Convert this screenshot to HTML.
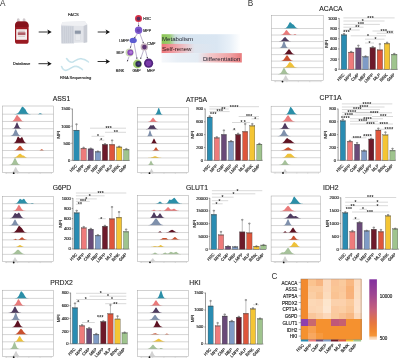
<!DOCTYPE html>
<html><head><meta charset="utf-8"><style>html,body{margin:0;padding:0;background:#fff;width:400px;height:359px;overflow:hidden}svg text{font-family:"Liberation Sans",sans-serif}</style></head><body>
<svg width="400" height="359" viewBox="0 0 400 359" style="display:block;filter:blur(0.3px)">
<rect width="400" height="359" fill="#fff"/>
<text x="0.1" y="6.1" font-size="8.2" fill="#333">A</text>
<text x="247.7" y="6.2" font-size="8.2" fill="#333">B</text>
<text x="271.6" y="278.5" font-size="8.2" fill="#333">C</text>
<text x="330.9" y="11.2" font-size="6.8" text-anchor="middle" fill="#1e1e1e" stroke="#1e1e1e" stroke-width="0.12">ACACA</text>
<text x="61.5" y="101.4" font-size="6.8" text-anchor="middle" fill="#1e1e1e" stroke="#1e1e1e" stroke-width="0.12">ASS1</text>
<text x="196.6" y="102.4" font-size="6.8" text-anchor="middle" fill="#1e1e1e" stroke="#1e1e1e" stroke-width="0.12">ATP5A</text>
<text x="330.5" y="99.9" font-size="6.8" text-anchor="middle" fill="#1e1e1e" stroke="#1e1e1e" stroke-width="0.12">CPT1A</text>
<text x="62" y="189.6" font-size="6.8" text-anchor="middle" fill="#1e1e1e" stroke="#1e1e1e" stroke-width="0.12">G6PD</text>
<text x="197" y="189.7" font-size="6.8" text-anchor="middle" fill="#1e1e1e" stroke="#1e1e1e" stroke-width="0.12">GLUT1</text>
<text x="330.8" y="189.7" font-size="6.8" text-anchor="middle" fill="#1e1e1e" stroke="#1e1e1e" stroke-width="0.12">IDH2</text>
<text x="61.5" y="285" font-size="6.8" text-anchor="middle" fill="#1e1e1e" stroke="#1e1e1e" stroke-width="0.12">PRDX2</text>
<text x="195" y="285" font-size="6.8" text-anchor="middle" fill="#1e1e1e" stroke="#1e1e1e" stroke-width="0.12">HKI</text>
<line x1="339.2" y1="18.1" x2="339.2" y2="69.3" stroke="#333" stroke-width="0.5"/>
<line x1="339.2" y1="69.3" x2="397.81" y2="69.3" stroke="#333" stroke-width="0.5"/>
<line x1="338" y1="69.3" x2="339.2" y2="69.3" stroke="#333" stroke-width="0.45"/>
<text x="337.1" y="70.75" font-size="4.1" text-anchor="end" fill="#1e1e1e" stroke="#2a2a2a" stroke-width="0.16">0</text>
<line x1="338" y1="59.12" x2="339.2" y2="59.12" stroke="#333" stroke-width="0.45"/>
<text x="337.1" y="60.57" font-size="4.1" text-anchor="end" fill="#1e1e1e" stroke="#2a2a2a" stroke-width="0.16">200</text>
<line x1="338" y1="48.94" x2="339.2" y2="48.94" stroke="#333" stroke-width="0.45"/>
<text x="337.1" y="50.39" font-size="4.1" text-anchor="end" fill="#1e1e1e" stroke="#2a2a2a" stroke-width="0.16">400</text>
<line x1="338" y1="38.76" x2="339.2" y2="38.76" stroke="#333" stroke-width="0.45"/>
<text x="337.1" y="40.21" font-size="4.1" text-anchor="end" fill="#1e1e1e" stroke="#2a2a2a" stroke-width="0.16">600</text>
<line x1="338" y1="28.58" x2="339.2" y2="28.58" stroke="#333" stroke-width="0.45"/>
<text x="337.1" y="30.03" font-size="4.1" text-anchor="end" fill="#1e1e1e" stroke="#2a2a2a" stroke-width="0.16">800</text>
<line x1="338" y1="18.4" x2="339.2" y2="18.4" stroke="#333" stroke-width="0.45"/>
<text x="337.1" y="19.85" font-size="4.1" text-anchor="end" fill="#1e1e1e" stroke="#2a2a2a" stroke-width="0.16">1000</text>
<text transform="translate(327.8,43.85) rotate(-90)" font-size="4.4" text-anchor="middle" fill="#1e1e1e" stroke="#2a2a2a" stroke-width="0.16">MFI</text>
<rect x="341.25" y="34.79" width="5.5" height="34.51" fill="#2a8cb2" stroke="#3a3a3a" stroke-width="0.3"/>
<line x1="344" y1="34.79" x2="344" y2="33.67" stroke="#555" stroke-width="0.4"/>
<line x1="342.9" y1="33.67" x2="345.1" y2="33.67" stroke="#555" stroke-width="0.4"/>
<line x1="341.25" y1="35.29" x2="346.75" y2="35.29" stroke="#444" stroke-width="0.7" opacity="0.6"/>
<circle cx="344" cy="33.97" r="0.75" fill="none" stroke="#555" stroke-width="0.35"/>
<text transform="translate(344.9,75.1) rotate(-45)" font-size="4.1" text-anchor="end" fill="#1e1e1e" stroke="#2a2a2a" stroke-width="0.16">HSC</text>
<rect x="348.43" y="52.1" width="5.5" height="17.2" fill="#ee7b7b" stroke="#3a3a3a" stroke-width="0.3"/>
<line x1="351.18" y1="52.1" x2="351.18" y2="51.48" stroke="#555" stroke-width="0.4"/>
<line x1="350.08" y1="51.48" x2="352.28" y2="51.48" stroke="#555" stroke-width="0.4"/>
<line x1="348.43" y1="52.6" x2="353.93" y2="52.6" stroke="#444" stroke-width="0.7" opacity="0.6"/>
<circle cx="351.18" cy="51.78" r="0.75" fill="none" stroke="#555" stroke-width="0.35"/>
<text transform="translate(352.08,75.1) rotate(-45)" font-size="4.1" text-anchor="end" fill="#1e1e1e" stroke="#2a2a2a" stroke-width="0.16">MPP</text>
<rect x="355.61" y="47.92" width="5.5" height="21.38" fill="#694a78" stroke="#3a3a3a" stroke-width="0.3"/>
<line x1="358.36" y1="47.92" x2="358.36" y2="45.38" stroke="#555" stroke-width="0.4"/>
<line x1="357.26" y1="45.38" x2="359.46" y2="45.38" stroke="#555" stroke-width="0.4"/>
<line x1="355.61" y1="48.42" x2="361.11" y2="48.42" stroke="#444" stroke-width="0.7" opacity="0.6"/>
<circle cx="358.36" cy="45.68" r="0.75" fill="none" stroke="#555" stroke-width="0.35"/>
<text transform="translate(359.26,75.1) rotate(-45)" font-size="4.1" text-anchor="end" fill="#1e1e1e" stroke="#2a2a2a" stroke-width="0.16">CMP</text>
<rect x="362.79" y="56.57" width="5.5" height="12.73" fill="#7f9bc6" stroke="#3a3a3a" stroke-width="0.3"/>
<line x1="365.54" y1="56.57" x2="365.54" y2="56.07" stroke="#555" stroke-width="0.4"/>
<line x1="364.44" y1="56.07" x2="366.64" y2="56.07" stroke="#555" stroke-width="0.4"/>
<line x1="362.79" y1="57.07" x2="368.29" y2="57.07" stroke="#444" stroke-width="0.7" opacity="0.6"/>
<circle cx="365.54" cy="56.37" r="0.75" fill="none" stroke="#555" stroke-width="0.35"/>
<text transform="translate(366.44,75.1) rotate(-45)" font-size="4.1" text-anchor="end" fill="#1e1e1e" stroke="#2a2a2a" stroke-width="0.16">MEP</text>
<rect x="369.97" y="47.57" width="5.5" height="21.73" fill="#6d1a2a" stroke="#3a3a3a" stroke-width="0.3"/>
<line x1="372.72" y1="47.57" x2="372.72" y2="46.65" stroke="#555" stroke-width="0.4"/>
<line x1="371.62" y1="46.65" x2="373.82" y2="46.65" stroke="#555" stroke-width="0.4"/>
<line x1="369.97" y1="48.07" x2="375.47" y2="48.07" stroke="#444" stroke-width="0.7" opacity="0.6"/>
<circle cx="372.72" cy="46.95" r="0.75" fill="none" stroke="#555" stroke-width="0.35"/>
<text transform="translate(373.62,75.1) rotate(-45)" font-size="4.1" text-anchor="end" fill="#1e1e1e" stroke="#2a2a2a" stroke-width="0.16">LMPP</text>
<rect x="377.15" y="49.81" width="5.5" height="19.49" fill="#de563c" stroke="#3a3a3a" stroke-width="0.3"/>
<line x1="379.9" y1="49.81" x2="379.9" y2="43.85" stroke="#555" stroke-width="0.4"/>
<line x1="378.8" y1="43.85" x2="381" y2="43.85" stroke="#555" stroke-width="0.4"/>
<line x1="377.15" y1="50.31" x2="382.65" y2="50.31" stroke="#444" stroke-width="0.7" opacity="0.6"/>
<circle cx="379.9" cy="44.15" r="0.75" fill="none" stroke="#555" stroke-width="0.35"/>
<text transform="translate(380.8,75.1) rotate(-45)" font-size="4.1" text-anchor="end" fill="#1e1e1e" stroke="#2a2a2a" stroke-width="0.16">MLP</text>
<rect x="384.33" y="43.34" width="5.5" height="25.96" fill="#f4c534" stroke="#3a3a3a" stroke-width="0.3"/>
<line x1="387.08" y1="43.34" x2="387.08" y2="42.32" stroke="#555" stroke-width="0.4"/>
<line x1="385.98" y1="42.32" x2="388.18" y2="42.32" stroke="#555" stroke-width="0.4"/>
<line x1="384.33" y1="43.84" x2="389.83" y2="43.84" stroke="#444" stroke-width="0.7" opacity="0.6"/>
<circle cx="387.08" cy="42.62" r="0.75" fill="none" stroke="#555" stroke-width="0.35"/>
<text transform="translate(387.98,75.1) rotate(-45)" font-size="4.1" text-anchor="end" fill="#1e1e1e" stroke="#2a2a2a" stroke-width="0.16">B/NK</text>
<rect x="391.51" y="54.28" width="5.5" height="15.02" fill="#9fc48e" stroke="#3a3a3a" stroke-width="0.3"/>
<line x1="394.26" y1="54.28" x2="394.26" y2="53.52" stroke="#555" stroke-width="0.4"/>
<line x1="393.16" y1="53.52" x2="395.36" y2="53.52" stroke="#555" stroke-width="0.4"/>
<line x1="391.51" y1="54.78" x2="397.01" y2="54.78" stroke="#444" stroke-width="0.7" opacity="0.6"/>
<circle cx="394.26" cy="53.82" r="0.75" fill="none" stroke="#555" stroke-width="0.35"/>
<text transform="translate(395.16,75.1) rotate(-45)" font-size="4.1" text-anchor="end" fill="#1e1e1e" stroke="#2a2a2a" stroke-width="0.16">GMP</text>
<line x1="343.4" y1="17.9" x2="394.6" y2="17.9" stroke="#a0a0a0" stroke-width="0.4"/>
<text x="370.6" y="19.7" font-size="5" font-weight="bold" letter-spacing="0.25" text-anchor="middle" fill="#2a2a2a">***</text>
<line x1="343.4" y1="21" x2="384.5" y2="21" stroke="#a0a0a0" stroke-width="0.4"/>
<text x="362.8" y="22.8" font-size="5" font-weight="bold" letter-spacing="0.25" text-anchor="middle" fill="#2a2a2a">*</text>
<line x1="343.4" y1="24.4" x2="379.9" y2="24.4" stroke="#a0a0a0" stroke-width="0.4"/>
<text x="361" y="26.2" font-size="5" font-weight="bold" letter-spacing="0.25" text-anchor="middle" fill="#2a2a2a">***</text>
<line x1="343.4" y1="27.2" x2="363.5" y2="27.2" stroke="#a0a0a0" stroke-width="0.4"/>
<text x="357.5" y="29" font-size="5" font-weight="bold" letter-spacing="0.25" text-anchor="middle" fill="#2a2a2a">**</text>
<line x1="343.4" y1="30" x2="359.7" y2="30" stroke="#a0a0a0" stroke-width="0.4"/>
<text x="350.4" y="31.8" font-size="5" font-weight="bold" letter-spacing="0.25" text-anchor="middle" fill="#2a2a2a">*</text>
<text x="346.6" y="34.3" font-size="5" font-weight="bold" letter-spacing="0.25" text-anchor="middle" fill="#2a2a2a">***</text>
<line x1="372.5" y1="31" x2="393.5" y2="31" stroke="#a0a0a0" stroke-width="0.4"/>
<text x="383.8" y="32.8" font-size="5" font-weight="bold" letter-spacing="0.25" text-anchor="middle" fill="#2a2a2a">***</text>
<line x1="376.8" y1="33.3" x2="393.8" y2="33.3" stroke="#a0a0a0" stroke-width="0.4"/>
<text x="389.8" y="35.1" font-size="5" font-weight="bold" letter-spacing="0.25" text-anchor="middle" fill="#2a2a2a">***</text>
<line x1="350.7" y1="35.8" x2="386" y2="35.8" stroke="#a0a0a0" stroke-width="0.4"/>
<text x="368" y="37.6" font-size="5" font-weight="bold" letter-spacing="0.25" text-anchor="middle" fill="#2a2a2a">*</text>
<line x1="365" y1="39.2" x2="384.5" y2="39.2" stroke="#a0a0a0" stroke-width="0.4"/>
<text x="375.5" y="41" font-size="5" font-weight="bold" letter-spacing="0.25" text-anchor="middle" fill="#2a2a2a">*</text>
<line x1="365" y1="43" x2="374" y2="43" stroke="#a0a0a0" stroke-width="0.4"/>
<text x="369.5" y="44.8" font-size="5" font-weight="bold" letter-spacing="0.25" text-anchor="middle" fill="#2a2a2a">*</text>
<line x1="72.4" y1="108.7" x2="72.4" y2="160.4" stroke="#333" stroke-width="0.5"/>
<line x1="72.4" y1="160.4" x2="129.84" y2="160.4" stroke="#333" stroke-width="0.5"/>
<line x1="71.2" y1="160.4" x2="72.4" y2="160.4" stroke="#333" stroke-width="0.45"/>
<text x="70.3" y="161.85" font-size="4.1" text-anchor="end" fill="#1e1e1e" stroke="#2a2a2a" stroke-width="0.16">0</text>
<line x1="71.2" y1="143.27" x2="72.4" y2="143.27" stroke="#333" stroke-width="0.45"/>
<text x="70.3" y="144.72" font-size="4.1" text-anchor="end" fill="#1e1e1e" stroke="#2a2a2a" stroke-width="0.16">500</text>
<line x1="71.2" y1="126.13" x2="72.4" y2="126.13" stroke="#333" stroke-width="0.45"/>
<text x="70.3" y="127.58" font-size="4.1" text-anchor="end" fill="#1e1e1e" stroke="#2a2a2a" stroke-width="0.16">1000</text>
<line x1="71.2" y1="109" x2="72.4" y2="109" stroke="#333" stroke-width="0.45"/>
<text x="70.3" y="110.45" font-size="4.1" text-anchor="end" fill="#1e1e1e" stroke="#2a2a2a" stroke-width="0.16">1500</text>
<text transform="translate(60,134.7) rotate(-90)" font-size="4.4" text-anchor="middle" fill="#1e1e1e" stroke="#2a2a2a" stroke-width="0.16">MFI</text>
<rect x="73.8" y="130.14" width="5.4" height="30.26" fill="#2a8cb2" stroke="#3a3a3a" stroke-width="0.3"/>
<line x1="76.5" y1="130.14" x2="76.5" y2="124.08" stroke="#555" stroke-width="0.4"/>
<line x1="75.4" y1="124.08" x2="77.6" y2="124.08" stroke="#555" stroke-width="0.4"/>
<line x1="73.8" y1="130.64" x2="79.2" y2="130.64" stroke="#444" stroke-width="0.7" opacity="0.6"/>
<circle cx="76.5" cy="124.38" r="0.75" fill="none" stroke="#555" stroke-width="0.35"/>
<text transform="translate(77.4,166.2) rotate(-45)" font-size="4.1" text-anchor="end" fill="#1e1e1e" stroke="#2a2a2a" stroke-width="0.16">HSC</text>
<rect x="80.92" y="148.2" width="5.4" height="12.2" fill="#ee7b7b" stroke="#3a3a3a" stroke-width="0.3"/>
<line x1="83.62" y1="148.2" x2="83.62" y2="147.38" stroke="#555" stroke-width="0.4"/>
<line x1="82.52" y1="147.38" x2="84.72" y2="147.38" stroke="#555" stroke-width="0.4"/>
<line x1="80.92" y1="148.7" x2="86.32" y2="148.7" stroke="#444" stroke-width="0.7" opacity="0.6"/>
<circle cx="83.62" cy="147.68" r="0.75" fill="none" stroke="#555" stroke-width="0.35"/>
<text transform="translate(84.52,166.2) rotate(-45)" font-size="4.1" text-anchor="end" fill="#1e1e1e" stroke="#2a2a2a" stroke-width="0.16">MPP</text>
<rect x="88.04" y="148.85" width="5.4" height="11.55" fill="#694a78" stroke="#3a3a3a" stroke-width="0.3"/>
<line x1="90.74" y1="148.85" x2="90.74" y2="148.24" stroke="#555" stroke-width="0.4"/>
<line x1="89.64" y1="148.24" x2="91.84" y2="148.24" stroke="#555" stroke-width="0.4"/>
<line x1="88.04" y1="149.35" x2="93.44" y2="149.35" stroke="#444" stroke-width="0.7" opacity="0.6"/>
<circle cx="90.74" cy="148.54" r="0.75" fill="none" stroke="#555" stroke-width="0.35"/>
<text transform="translate(91.64,166.2) rotate(-45)" font-size="4.1" text-anchor="end" fill="#1e1e1e" stroke="#2a2a2a" stroke-width="0.16">CMP</text>
<rect x="95.16" y="151.59" width="5.4" height="8.81" fill="#7f9bc6" stroke="#3a3a3a" stroke-width="0.3"/>
<line x1="97.86" y1="151.59" x2="97.86" y2="151.15" stroke="#555" stroke-width="0.4"/>
<line x1="96.76" y1="151.15" x2="98.96" y2="151.15" stroke="#555" stroke-width="0.4"/>
<line x1="95.16" y1="152.09" x2="100.56" y2="152.09" stroke="#444" stroke-width="0.7" opacity="0.6"/>
<circle cx="97.86" cy="151.45" r="0.75" fill="none" stroke="#555" stroke-width="0.35"/>
<text transform="translate(98.76,166.2) rotate(-45)" font-size="4.1" text-anchor="end" fill="#1e1e1e" stroke="#2a2a2a" stroke-width="0.16">MEP</text>
<rect x="102.28" y="144.43" width="5.4" height="15.97" fill="#6d1a2a" stroke="#3a3a3a" stroke-width="0.3"/>
<line x1="104.98" y1="144.43" x2="104.98" y2="143.78" stroke="#555" stroke-width="0.4"/>
<line x1="103.88" y1="143.78" x2="106.08" y2="143.78" stroke="#555" stroke-width="0.4"/>
<line x1="102.28" y1="144.93" x2="107.68" y2="144.93" stroke="#444" stroke-width="0.7" opacity="0.6"/>
<circle cx="104.98" cy="144.08" r="0.75" fill="none" stroke="#555" stroke-width="0.35"/>
<text transform="translate(105.88,166.2) rotate(-45)" font-size="4.1" text-anchor="end" fill="#1e1e1e" stroke="#2a2a2a" stroke-width="0.16">LMPP</text>
<rect x="109.4" y="144.43" width="5.4" height="15.97" fill="#de563c" stroke="#3a3a3a" stroke-width="0.3"/>
<line x1="112.1" y1="144.43" x2="112.1" y2="140.18" stroke="#555" stroke-width="0.4"/>
<line x1="111" y1="140.18" x2="113.2" y2="140.18" stroke="#555" stroke-width="0.4"/>
<line x1="109.4" y1="144.93" x2="114.8" y2="144.93" stroke="#444" stroke-width="0.7" opacity="0.6"/>
<circle cx="112.1" cy="140.48" r="0.75" fill="none" stroke="#555" stroke-width="0.35"/>
<text transform="translate(113,166.2) rotate(-45)" font-size="4.1" text-anchor="end" fill="#1e1e1e" stroke="#2a2a2a" stroke-width="0.16">MLP</text>
<rect x="116.52" y="146.93" width="5.4" height="13.47" fill="#f4c534" stroke="#3a3a3a" stroke-width="0.3"/>
<line x1="119.22" y1="146.93" x2="119.22" y2="146.35" stroke="#555" stroke-width="0.4"/>
<line x1="118.12" y1="146.35" x2="120.32" y2="146.35" stroke="#555" stroke-width="0.4"/>
<line x1="116.52" y1="147.43" x2="121.92" y2="147.43" stroke="#444" stroke-width="0.7" opacity="0.6"/>
<circle cx="119.22" cy="146.65" r="0.75" fill="none" stroke="#555" stroke-width="0.35"/>
<text transform="translate(120.12,166.2) rotate(-45)" font-size="4.1" text-anchor="end" fill="#1e1e1e" stroke="#2a2a2a" stroke-width="0.16">B/NK</text>
<rect x="123.64" y="149.33" width="5.4" height="11.07" fill="#9fc48e" stroke="#3a3a3a" stroke-width="0.3"/>
<line x1="126.34" y1="149.33" x2="126.34" y2="148.75" stroke="#555" stroke-width="0.4"/>
<line x1="125.24" y1="148.75" x2="127.44" y2="148.75" stroke="#555" stroke-width="0.4"/>
<line x1="123.64" y1="149.83" x2="129.04" y2="149.83" stroke="#444" stroke-width="0.7" opacity="0.6"/>
<circle cx="126.34" cy="149.05" r="0.75" fill="none" stroke="#555" stroke-width="0.35"/>
<text transform="translate(127.24,166.2) rotate(-45)" font-size="4.1" text-anchor="end" fill="#1e1e1e" stroke="#2a2a2a" stroke-width="0.16">GMP</text>
<line x1="90" y1="128.2" x2="126" y2="128.2" stroke="#a0a0a0" stroke-width="0.4"/>
<text x="108.7" y="130" font-size="5" font-weight="bold" letter-spacing="0.25" text-anchor="middle" fill="#2a2a2a">***</text>
<line x1="105" y1="132.3" x2="126" y2="132.3" stroke="#a0a0a0" stroke-width="0.4"/>
<text x="115.9" y="134.1" font-size="5" font-weight="bold" letter-spacing="0.25" text-anchor="middle" fill="#2a2a2a">**</text>
<line x1="91.5" y1="136.3" x2="104.3" y2="136.3" stroke="#a0a0a0" stroke-width="0.4"/>
<text x="98.2" y="138.1" font-size="5" font-weight="bold" letter-spacing="0.25" text-anchor="middle" fill="#2a2a2a">*</text>
<line x1="99" y1="140.2" x2="104.3" y2="140.2" stroke="#a0a0a0" stroke-width="0.4"/>
<text x="101.3" y="142" font-size="5" font-weight="bold" letter-spacing="0.25" text-anchor="middle" fill="#2a2a2a">*</text>
<line x1="205.2" y1="108.7" x2="205.2" y2="160.3" stroke="#333" stroke-width="0.5"/>
<line x1="205.2" y1="160.3" x2="262.75" y2="160.3" stroke="#333" stroke-width="0.5"/>
<line x1="204" y1="160.3" x2="205.2" y2="160.3" stroke="#333" stroke-width="0.45"/>
<text x="203.1" y="161.75" font-size="4.1" text-anchor="end" fill="#1e1e1e" stroke="#2a2a2a" stroke-width="0.16">0</text>
<line x1="204" y1="147.48" x2="205.2" y2="147.48" stroke="#333" stroke-width="0.45"/>
<text x="203.1" y="148.93" font-size="4.1" text-anchor="end" fill="#1e1e1e" stroke="#2a2a2a" stroke-width="0.16">200</text>
<line x1="204" y1="134.65" x2="205.2" y2="134.65" stroke="#333" stroke-width="0.45"/>
<text x="203.1" y="136.1" font-size="4.1" text-anchor="end" fill="#1e1e1e" stroke="#2a2a2a" stroke-width="0.16">400</text>
<line x1="204" y1="121.83" x2="205.2" y2="121.83" stroke="#333" stroke-width="0.45"/>
<text x="203.1" y="123.28" font-size="4.1" text-anchor="end" fill="#1e1e1e" stroke="#2a2a2a" stroke-width="0.16">600</text>
<line x1="204" y1="109" x2="205.2" y2="109" stroke="#333" stroke-width="0.45"/>
<text x="203.1" y="110.45" font-size="4.1" text-anchor="end" fill="#1e1e1e" stroke="#2a2a2a" stroke-width="0.16">800</text>
<text transform="translate(194,134.65) rotate(-90)" font-size="4.4" text-anchor="middle" fill="#1e1e1e" stroke="#2a2a2a" stroke-width="0.16">MFI</text>
<rect x="207.15" y="117.14" width="5.1" height="43.16" fill="#2a8cb2" stroke="#3a3a3a" stroke-width="0.3"/>
<line x1="209.7" y1="117.14" x2="209.7" y2="116.05" stroke="#555" stroke-width="0.4"/>
<line x1="208.6" y1="116.05" x2="210.8" y2="116.05" stroke="#555" stroke-width="0.4"/>
<line x1="207.15" y1="117.64" x2="212.25" y2="117.64" stroke="#444" stroke-width="0.7" opacity="0.6"/>
<circle cx="209.7" cy="116.35" r="0.75" fill="none" stroke="#555" stroke-width="0.35"/>
<text transform="translate(210.6,166.1) rotate(-45)" font-size="4.1" text-anchor="end" fill="#1e1e1e" stroke="#2a2a2a" stroke-width="0.16">HSC</text>
<rect x="214.25" y="137.73" width="5.1" height="22.57" fill="#ee7b7b" stroke="#3a3a3a" stroke-width="0.3"/>
<line x1="216.8" y1="137.73" x2="216.8" y2="136.89" stroke="#555" stroke-width="0.4"/>
<line x1="215.7" y1="136.89" x2="217.9" y2="136.89" stroke="#555" stroke-width="0.4"/>
<line x1="214.25" y1="138.23" x2="219.35" y2="138.23" stroke="#444" stroke-width="0.7" opacity="0.6"/>
<circle cx="216.8" cy="137.19" r="0.75" fill="none" stroke="#555" stroke-width="0.35"/>
<text transform="translate(217.7,166.1) rotate(-45)" font-size="4.1" text-anchor="end" fill="#1e1e1e" stroke="#2a2a2a" stroke-width="0.16">MPP</text>
<rect x="221.35" y="134.46" width="5.1" height="25.84" fill="#694a78" stroke="#3a3a3a" stroke-width="0.3"/>
<line x1="223.9" y1="134.46" x2="223.9" y2="130.16" stroke="#555" stroke-width="0.4"/>
<line x1="222.8" y1="130.16" x2="225" y2="130.16" stroke="#555" stroke-width="0.4"/>
<line x1="221.35" y1="134.96" x2="226.45" y2="134.96" stroke="#444" stroke-width="0.7" opacity="0.6"/>
<circle cx="223.9" cy="130.46" r="0.75" fill="none" stroke="#555" stroke-width="0.35"/>
<text transform="translate(224.8,166.1) rotate(-45)" font-size="4.1" text-anchor="end" fill="#1e1e1e" stroke="#2a2a2a" stroke-width="0.16">CMP</text>
<rect x="228.45" y="141.25" width="5.1" height="19.05" fill="#7f9bc6" stroke="#3a3a3a" stroke-width="0.3"/>
<line x1="231" y1="141.25" x2="231" y2="140.74" stroke="#555" stroke-width="0.4"/>
<line x1="229.9" y1="140.74" x2="232.1" y2="140.74" stroke="#555" stroke-width="0.4"/>
<line x1="228.45" y1="141.75" x2="233.55" y2="141.75" stroke="#444" stroke-width="0.7" opacity="0.6"/>
<circle cx="231" cy="141.04" r="0.75" fill="none" stroke="#555" stroke-width="0.35"/>
<text transform="translate(231.9,166.1) rotate(-45)" font-size="4.1" text-anchor="end" fill="#1e1e1e" stroke="#2a2a2a" stroke-width="0.16">MEP</text>
<rect x="235.55" y="134.46" width="5.1" height="25.84" fill="#6d1a2a" stroke="#3a3a3a" stroke-width="0.3"/>
<line x1="238.1" y1="134.46" x2="238.1" y2="133.37" stroke="#555" stroke-width="0.4"/>
<line x1="237" y1="133.37" x2="239.2" y2="133.37" stroke="#555" stroke-width="0.4"/>
<line x1="235.55" y1="134.96" x2="240.65" y2="134.96" stroke="#444" stroke-width="0.7" opacity="0.6"/>
<circle cx="238.1" cy="133.67" r="0.75" fill="none" stroke="#555" stroke-width="0.35"/>
<text transform="translate(239,166.1) rotate(-45)" font-size="4.1" text-anchor="end" fill="#1e1e1e" stroke="#2a2a2a" stroke-width="0.16">LMPP</text>
<rect x="242.65" y="131.44" width="5.1" height="28.86" fill="#de563c" stroke="#3a3a3a" stroke-width="0.3"/>
<line x1="245.2" y1="131.44" x2="245.2" y2="123.75" stroke="#555" stroke-width="0.4"/>
<line x1="244.1" y1="123.75" x2="246.3" y2="123.75" stroke="#555" stroke-width="0.4"/>
<line x1="242.65" y1="131.94" x2="247.75" y2="131.94" stroke="#444" stroke-width="0.7" opacity="0.6"/>
<circle cx="245.2" cy="124.05" r="0.75" fill="none" stroke="#555" stroke-width="0.35"/>
<text transform="translate(246.1,166.1) rotate(-45)" font-size="4.1" text-anchor="end" fill="#1e1e1e" stroke="#2a2a2a" stroke-width="0.16">MLP</text>
<rect x="249.75" y="125.67" width="5.1" height="34.63" fill="#f4c534" stroke="#3a3a3a" stroke-width="0.3"/>
<line x1="252.3" y1="125.67" x2="252.3" y2="123.75" stroke="#555" stroke-width="0.4"/>
<line x1="251.2" y1="123.75" x2="253.4" y2="123.75" stroke="#555" stroke-width="0.4"/>
<line x1="249.75" y1="126.17" x2="254.85" y2="126.17" stroke="#444" stroke-width="0.7" opacity="0.6"/>
<circle cx="252.3" cy="124.05" r="0.75" fill="none" stroke="#555" stroke-width="0.35"/>
<text transform="translate(253.2,166.1) rotate(-45)" font-size="4.1" text-anchor="end" fill="#1e1e1e" stroke="#2a2a2a" stroke-width="0.16">B/NK</text>
<rect x="256.85" y="144.14" width="5.1" height="16.16" fill="#9fc48e" stroke="#3a3a3a" stroke-width="0.3"/>
<line x1="259.4" y1="144.14" x2="259.4" y2="143.5" stroke="#555" stroke-width="0.4"/>
<line x1="258.3" y1="143.5" x2="260.5" y2="143.5" stroke="#555" stroke-width="0.4"/>
<line x1="256.85" y1="144.64" x2="261.95" y2="144.64" stroke="#444" stroke-width="0.7" opacity="0.6"/>
<circle cx="259.4" cy="143.8" r="0.75" fill="none" stroke="#555" stroke-width="0.35"/>
<text transform="translate(260.3,166.1) rotate(-45)" font-size="4.1" text-anchor="end" fill="#1e1e1e" stroke="#2a2a2a" stroke-width="0.16">GMP</text>
<line x1="209.4" y1="106.7" x2="259" y2="106.7" stroke="#a0a0a0" stroke-width="0.4"/>
<text x="234.2" y="108.5" font-size="5" font-weight="bold" letter-spacing="0.25" text-anchor="middle" fill="#2a2a2a">****</text>
<line x1="209.4" y1="109" x2="228.8" y2="109" stroke="#a0a0a0" stroke-width="0.4"/>
<text x="223.4" y="110.8" font-size="5" font-weight="bold" letter-spacing="0.25" text-anchor="middle" fill="#2a2a2a">**</text>
<line x1="209.4" y1="111.6" x2="229.6" y2="111.6" stroke="#a0a0a0" stroke-width="0.4"/>
<text x="219.9" y="113.4" font-size="5" font-weight="bold" letter-spacing="0.25" text-anchor="middle" fill="#2a2a2a">***</text>
<text x="213.3" y="115.6" font-size="5" font-weight="bold" letter-spacing="0.25" text-anchor="middle" fill="#2a2a2a">***</text>
<line x1="238.7" y1="116.5" x2="259" y2="116.5" stroke="#a0a0a0" stroke-width="0.4"/>
<text x="249.2" y="118.3" font-size="5" font-weight="bold" letter-spacing="0.25" text-anchor="middle" fill="#2a2a2a">***</text>
<line x1="251.5" y1="118.8" x2="259" y2="118.8" stroke="#a0a0a0" stroke-width="0.4"/>
<text x="255.3" y="120.6" font-size="5" font-weight="bold" letter-spacing="0.25" text-anchor="middle" fill="#2a2a2a">*</text>
<line x1="232" y1="122.5" x2="250" y2="122.5" stroke="#a0a0a0" stroke-width="0.4"/>
<text x="241.7" y="124.3" font-size="5" font-weight="bold" letter-spacing="0.25" text-anchor="middle" fill="#2a2a2a">*</text>
<text x="244.8" y="124.3" font-size="5" font-weight="bold" letter-spacing="0.25" text-anchor="middle" fill="#2a2a2a">*</text>
<line x1="232.5" y1="130" x2="236" y2="130" stroke="#a0a0a0" stroke-width="0.4"/>
<text x="234.3" y="131.8" font-size="5" font-weight="bold" letter-spacing="0.25" text-anchor="middle" fill="#2a2a2a">*</text>
<line x1="338.1" y1="108.7" x2="338.1" y2="160.3" stroke="#333" stroke-width="0.5"/>
<line x1="338.1" y1="160.3" x2="395.93" y2="160.3" stroke="#333" stroke-width="0.5"/>
<line x1="336.9" y1="160.3" x2="338.1" y2="160.3" stroke="#333" stroke-width="0.45"/>
<text x="336" y="161.75" font-size="4.1" text-anchor="end" fill="#1e1e1e" stroke="#2a2a2a" stroke-width="0.16">0</text>
<line x1="336.9" y1="147.48" x2="338.1" y2="147.48" stroke="#333" stroke-width="0.45"/>
<text x="336" y="148.93" font-size="4.1" text-anchor="end" fill="#1e1e1e" stroke="#2a2a2a" stroke-width="0.16">200</text>
<line x1="336.9" y1="134.65" x2="338.1" y2="134.65" stroke="#333" stroke-width="0.45"/>
<text x="336" y="136.1" font-size="4.1" text-anchor="end" fill="#1e1e1e" stroke="#2a2a2a" stroke-width="0.16">400</text>
<line x1="336.9" y1="121.83" x2="338.1" y2="121.83" stroke="#333" stroke-width="0.45"/>
<text x="336" y="123.28" font-size="4.1" text-anchor="end" fill="#1e1e1e" stroke="#2a2a2a" stroke-width="0.16">600</text>
<line x1="336.9" y1="109" x2="338.1" y2="109" stroke="#333" stroke-width="0.45"/>
<text x="336" y="110.45" font-size="4.1" text-anchor="end" fill="#1e1e1e" stroke="#2a2a2a" stroke-width="0.16">800</text>
<text transform="translate(327.4,134.65) rotate(-90)" font-size="4.4" text-anchor="middle" fill="#1e1e1e" stroke="#2a2a2a" stroke-width="0.16">MFI</text>
<rect x="340.3" y="120.73" width="5.2" height="39.57" fill="#2a8cb2" stroke="#3a3a3a" stroke-width="0.3"/>
<line x1="342.9" y1="120.73" x2="342.9" y2="119.26" stroke="#555" stroke-width="0.4"/>
<line x1="341.8" y1="119.26" x2="344" y2="119.26" stroke="#555" stroke-width="0.4"/>
<line x1="340.3" y1="121.23" x2="345.5" y2="121.23" stroke="#444" stroke-width="0.7" opacity="0.6"/>
<circle cx="342.9" cy="119.56" r="0.75" fill="none" stroke="#555" stroke-width="0.35"/>
<text transform="translate(343.8,166.1) rotate(-45)" font-size="4.1" text-anchor="end" fill="#1e1e1e" stroke="#2a2a2a" stroke-width="0.16">HSC</text>
<rect x="347.39" y="141.25" width="5.2" height="19.05" fill="#ee7b7b" stroke="#3a3a3a" stroke-width="0.3"/>
<line x1="349.99" y1="141.25" x2="349.99" y2="140.42" stroke="#555" stroke-width="0.4"/>
<line x1="348.89" y1="140.42" x2="351.09" y2="140.42" stroke="#555" stroke-width="0.4"/>
<line x1="347.39" y1="141.75" x2="352.59" y2="141.75" stroke="#444" stroke-width="0.7" opacity="0.6"/>
<circle cx="349.99" cy="140.72" r="0.75" fill="none" stroke="#555" stroke-width="0.35"/>
<text transform="translate(350.89,166.1) rotate(-45)" font-size="4.1" text-anchor="end" fill="#1e1e1e" stroke="#2a2a2a" stroke-width="0.16">MPP</text>
<rect x="354.48" y="144.27" width="5.2" height="16.03" fill="#694a78" stroke="#3a3a3a" stroke-width="0.3"/>
<line x1="357.08" y1="144.27" x2="357.08" y2="142.67" stroke="#555" stroke-width="0.4"/>
<line x1="355.98" y1="142.67" x2="358.18" y2="142.67" stroke="#555" stroke-width="0.4"/>
<line x1="354.48" y1="144.77" x2="359.68" y2="144.77" stroke="#444" stroke-width="0.7" opacity="0.6"/>
<circle cx="357.08" cy="142.97" r="0.75" fill="none" stroke="#555" stroke-width="0.35"/>
<text transform="translate(357.98,166.1) rotate(-45)" font-size="4.1" text-anchor="end" fill="#1e1e1e" stroke="#2a2a2a" stroke-width="0.16">CMP</text>
<rect x="361.57" y="150.81" width="5.2" height="9.49" fill="#7f9bc6" stroke="#3a3a3a" stroke-width="0.3"/>
<line x1="364.17" y1="150.81" x2="364.17" y2="150.17" stroke="#555" stroke-width="0.4"/>
<line x1="363.07" y1="150.17" x2="365.27" y2="150.17" stroke="#555" stroke-width="0.4"/>
<line x1="361.57" y1="151.31" x2="366.77" y2="151.31" stroke="#444" stroke-width="0.7" opacity="0.6"/>
<circle cx="364.17" cy="150.47" r="0.75" fill="none" stroke="#555" stroke-width="0.35"/>
<text transform="translate(365.07,166.1) rotate(-45)" font-size="4.1" text-anchor="end" fill="#1e1e1e" stroke="#2a2a2a" stroke-width="0.16">MEP</text>
<rect x="368.66" y="139.01" width="5.2" height="21.29" fill="#6d1a2a" stroke="#3a3a3a" stroke-width="0.3"/>
<line x1="371.26" y1="139.01" x2="371.26" y2="138.37" stroke="#555" stroke-width="0.4"/>
<line x1="370.16" y1="138.37" x2="372.36" y2="138.37" stroke="#555" stroke-width="0.4"/>
<line x1="368.66" y1="139.51" x2="373.86" y2="139.51" stroke="#444" stroke-width="0.7" opacity="0.6"/>
<circle cx="371.26" cy="138.67" r="0.75" fill="none" stroke="#555" stroke-width="0.35"/>
<text transform="translate(372.16,166.1) rotate(-45)" font-size="4.1" text-anchor="end" fill="#1e1e1e" stroke="#2a2a2a" stroke-width="0.16">LMPP</text>
<rect x="375.75" y="130.03" width="5.2" height="30.27" fill="#de563c" stroke="#3a3a3a" stroke-width="0.3"/>
<line x1="378.35" y1="130.03" x2="378.35" y2="128.24" stroke="#555" stroke-width="0.4"/>
<line x1="377.25" y1="128.24" x2="379.45" y2="128.24" stroke="#555" stroke-width="0.4"/>
<line x1="375.75" y1="130.53" x2="380.95" y2="130.53" stroke="#444" stroke-width="0.7" opacity="0.6"/>
<circle cx="378.35" cy="128.54" r="0.75" fill="none" stroke="#555" stroke-width="0.35"/>
<text transform="translate(379.25,166.1) rotate(-45)" font-size="4.1" text-anchor="end" fill="#1e1e1e" stroke="#2a2a2a" stroke-width="0.16">MLP</text>
<rect x="382.84" y="134.84" width="5.2" height="25.46" fill="#f4c534" stroke="#3a3a3a" stroke-width="0.3"/>
<line x1="385.44" y1="134.84" x2="385.44" y2="132.09" stroke="#555" stroke-width="0.4"/>
<line x1="384.34" y1="132.09" x2="386.54" y2="132.09" stroke="#555" stroke-width="0.4"/>
<line x1="382.84" y1="135.34" x2="388.04" y2="135.34" stroke="#444" stroke-width="0.7" opacity="0.6"/>
<circle cx="385.44" cy="132.39" r="0.75" fill="none" stroke="#555" stroke-width="0.35"/>
<text transform="translate(386.34,166.1) rotate(-45)" font-size="4.1" text-anchor="end" fill="#1e1e1e" stroke="#2a2a2a" stroke-width="0.16">B/NK</text>
<rect x="389.93" y="150.3" width="5.2" height="10" fill="#9fc48e" stroke="#3a3a3a" stroke-width="0.3"/>
<line x1="392.53" y1="150.3" x2="392.53" y2="148.44" stroke="#555" stroke-width="0.4"/>
<line x1="391.43" y1="148.44" x2="393.63" y2="148.44" stroke="#555" stroke-width="0.4"/>
<line x1="389.93" y1="150.8" x2="395.13" y2="150.8" stroke="#444" stroke-width="0.7" opacity="0.6"/>
<circle cx="392.53" cy="148.74" r="0.75" fill="none" stroke="#555" stroke-width="0.35"/>
<text transform="translate(393.43,166.1) rotate(-45)" font-size="4.1" text-anchor="end" fill="#1e1e1e" stroke="#2a2a2a" stroke-width="0.16">GMP</text>
<line x1="341.9" y1="103.9" x2="392.3" y2="103.9" stroke="#a0a0a0" stroke-width="0.4"/>
<text x="367" y="105.7" font-size="5" font-weight="bold" letter-spacing="0.25" text-anchor="middle" fill="#2a2a2a">****</text>
<line x1="341.9" y1="107" x2="384.5" y2="107" stroke="#a0a0a0" stroke-width="0.4"/>
<text x="364" y="108.8" font-size="5" font-weight="bold" letter-spacing="0.25" text-anchor="middle" fill="#2a2a2a">****</text>
<line x1="341.9" y1="109.6" x2="379.9" y2="109.6" stroke="#a0a0a0" stroke-width="0.4"/>
<text x="357.4" y="111.4" font-size="5" font-weight="bold" letter-spacing="0.25" text-anchor="middle" fill="#2a2a2a">****</text>
<line x1="341.9" y1="112.4" x2="375.2" y2="112.4" stroke="#a0a0a0" stroke-width="0.4"/>
<text x="352" y="114.2" font-size="5" font-weight="bold" letter-spacing="0.25" text-anchor="middle" fill="#2a2a2a">****</text>
<line x1="341.9" y1="115" x2="372" y2="115" stroke="#a0a0a0" stroke-width="0.4"/>
<text x="348.9" y="116.8" font-size="5" font-weight="bold" letter-spacing="0.25" text-anchor="middle" fill="#2a2a2a">****</text>
<text x="345.5" y="119.8" font-size="5" font-weight="bold" letter-spacing="0.25" text-anchor="middle" fill="#2a2a2a">****</text>
<line x1="355" y1="112.75" x2="392" y2="112.75" stroke="#a0a0a0" stroke-width="0.4"/>
<text x="374.4" y="114.55" font-size="5" font-weight="bold" letter-spacing="0.25" text-anchor="middle" fill="#2a2a2a">****</text>
<line x1="372" y1="116.5" x2="393" y2="116.5" stroke="#a0a0a0" stroke-width="0.4"/>
<text x="383.4" y="118.3" font-size="5" font-weight="bold" letter-spacing="0.25" text-anchor="middle" fill="#2a2a2a">***</text>
<line x1="350" y1="118.75" x2="383" y2="118.75" stroke="#a0a0a0" stroke-width="0.4"/>
<text x="367.6" y="120.55" font-size="5" font-weight="bold" letter-spacing="0.25" text-anchor="middle" fill="#2a2a2a">****</text>
<line x1="350" y1="121.3" x2="378" y2="121.3" stroke="#a0a0a0" stroke-width="0.4"/>
<text x="363" y="123.1" font-size="5" font-weight="bold" letter-spacing="0.25" text-anchor="middle" fill="#2a2a2a">****</text>
<line x1="350" y1="124" x2="393" y2="124" stroke="#a0a0a0" stroke-width="0.4"/>
<text x="370.6" y="125.8" font-size="5" font-weight="bold" letter-spacing="0.25" text-anchor="middle" fill="#2a2a2a">****</text>
<text x="383.8" y="125.8" font-size="5" font-weight="bold" letter-spacing="0.25" text-anchor="middle" fill="#2a2a2a">****</text>
<line x1="380" y1="129.25" x2="393" y2="129.25" stroke="#a0a0a0" stroke-width="0.4"/>
<text x="389" y="131.05" font-size="5" font-weight="bold" letter-spacing="0.25" text-anchor="middle" fill="#2a2a2a">****</text>
<line x1="351.5" y1="137.8" x2="366.5" y2="137.8" stroke="#a0a0a0" stroke-width="0.4"/>
<text x="357.1" y="139.6" font-size="5" font-weight="bold" letter-spacing="0.25" text-anchor="middle" fill="#2a2a2a">****</text>
<line x1="363" y1="136" x2="372" y2="136" stroke="#a0a0a0" stroke-width="0.4"/>
<text x="367.6" y="137.8" font-size="5" font-weight="bold" letter-spacing="0.25" text-anchor="middle" fill="#2a2a2a">****</text>
<line x1="72.9" y1="198" x2="72.9" y2="249" stroke="#333" stroke-width="0.5"/>
<line x1="72.9" y1="249" x2="129.52" y2="249" stroke="#333" stroke-width="0.5"/>
<line x1="71.7" y1="249" x2="72.9" y2="249" stroke="#333" stroke-width="0.45"/>
<text x="70.8" y="250.45" font-size="4.1" text-anchor="end" fill="#1e1e1e" stroke="#2a2a2a" stroke-width="0.16">0</text>
<line x1="71.7" y1="238.86" x2="72.9" y2="238.86" stroke="#333" stroke-width="0.45"/>
<text x="70.8" y="240.31" font-size="4.1" text-anchor="end" fill="#1e1e1e" stroke="#2a2a2a" stroke-width="0.16">200</text>
<line x1="71.7" y1="228.72" x2="72.9" y2="228.72" stroke="#333" stroke-width="0.45"/>
<text x="70.8" y="230.17" font-size="4.1" text-anchor="end" fill="#1e1e1e" stroke="#2a2a2a" stroke-width="0.16">400</text>
<line x1="71.7" y1="218.58" x2="72.9" y2="218.58" stroke="#333" stroke-width="0.45"/>
<text x="70.8" y="220.03" font-size="4.1" text-anchor="end" fill="#1e1e1e" stroke="#2a2a2a" stroke-width="0.16">600</text>
<line x1="71.7" y1="208.44" x2="72.9" y2="208.44" stroke="#333" stroke-width="0.45"/>
<text x="70.8" y="209.89" font-size="4.1" text-anchor="end" fill="#1e1e1e" stroke="#2a2a2a" stroke-width="0.16">800</text>
<line x1="71.7" y1="198.3" x2="72.9" y2="198.3" stroke="#333" stroke-width="0.45"/>
<text x="70.8" y="199.75" font-size="4.1" text-anchor="end" fill="#1e1e1e" stroke="#2a2a2a" stroke-width="0.16">1000</text>
<text transform="translate(61.7,223.65) rotate(-90)" font-size="4.4" text-anchor="middle" fill="#1e1e1e" stroke="#2a2a2a" stroke-width="0.16">MFI</text>
<rect x="74.1" y="212.75" width="5.2" height="36.25" fill="#2a8cb2" stroke="#3a3a3a" stroke-width="0.3"/>
<line x1="76.7" y1="212.75" x2="76.7" y2="210.47" stroke="#555" stroke-width="0.4"/>
<line x1="75.6" y1="210.47" x2="77.8" y2="210.47" stroke="#555" stroke-width="0.4"/>
<line x1="74.1" y1="213.25" x2="79.3" y2="213.25" stroke="#444" stroke-width="0.7" opacity="0.6"/>
<circle cx="76.7" cy="210.77" r="0.75" fill="none" stroke="#555" stroke-width="0.35"/>
<text transform="translate(77.6,254.8) rotate(-45)" font-size="4.1" text-anchor="end" fill="#1e1e1e" stroke="#2a2a2a" stroke-width="0.16">HSC</text>
<rect x="81.16" y="227.76" width="5.2" height="21.24" fill="#ee7b7b" stroke="#3a3a3a" stroke-width="0.3"/>
<line x1="83.76" y1="227.76" x2="83.76" y2="226.69" stroke="#555" stroke-width="0.4"/>
<line x1="82.66" y1="226.69" x2="84.86" y2="226.69" stroke="#555" stroke-width="0.4"/>
<line x1="81.16" y1="228.26" x2="86.36" y2="228.26" stroke="#444" stroke-width="0.7" opacity="0.6"/>
<circle cx="83.76" cy="226.99" r="0.75" fill="none" stroke="#555" stroke-width="0.35"/>
<text transform="translate(84.66,254.8) rotate(-45)" font-size="4.1" text-anchor="end" fill="#1e1e1e" stroke="#2a2a2a" stroke-width="0.16">MPP</text>
<rect x="88.22" y="229.23" width="5.2" height="19.77" fill="#694a78" stroke="#3a3a3a" stroke-width="0.3"/>
<line x1="90.82" y1="229.23" x2="90.82" y2="228.47" stroke="#555" stroke-width="0.4"/>
<line x1="89.72" y1="228.47" x2="91.92" y2="228.47" stroke="#555" stroke-width="0.4"/>
<line x1="88.22" y1="229.73" x2="93.42" y2="229.73" stroke="#444" stroke-width="0.7" opacity="0.6"/>
<circle cx="90.82" cy="228.77" r="0.75" fill="none" stroke="#555" stroke-width="0.35"/>
<text transform="translate(91.72,254.8) rotate(-45)" font-size="4.1" text-anchor="end" fill="#1e1e1e" stroke="#2a2a2a" stroke-width="0.16">CMP</text>
<rect x="95.28" y="235.26" width="5.2" height="13.74" fill="#7f9bc6" stroke="#3a3a3a" stroke-width="0.3"/>
<line x1="97.88" y1="235.26" x2="97.88" y2="234.8" stroke="#555" stroke-width="0.4"/>
<line x1="96.78" y1="234.8" x2="98.98" y2="234.8" stroke="#555" stroke-width="0.4"/>
<line x1="95.28" y1="235.76" x2="100.48" y2="235.76" stroke="#444" stroke-width="0.7" opacity="0.6"/>
<circle cx="97.88" cy="235.1" r="0.75" fill="none" stroke="#555" stroke-width="0.35"/>
<text transform="translate(98.78,254.8) rotate(-45)" font-size="4.1" text-anchor="end" fill="#1e1e1e" stroke="#2a2a2a" stroke-width="0.16">MEP</text>
<rect x="102.34" y="226.24" width="5.2" height="22.76" fill="#6d1a2a" stroke="#3a3a3a" stroke-width="0.3"/>
<line x1="104.94" y1="226.24" x2="104.94" y2="225.42" stroke="#555" stroke-width="0.4"/>
<line x1="103.84" y1="225.42" x2="106.04" y2="225.42" stroke="#555" stroke-width="0.4"/>
<line x1="102.34" y1="226.74" x2="107.54" y2="226.74" stroke="#444" stroke-width="0.7" opacity="0.6"/>
<circle cx="104.94" cy="225.72" r="0.75" fill="none" stroke="#555" stroke-width="0.35"/>
<text transform="translate(105.84,254.8) rotate(-45)" font-size="4.1" text-anchor="end" fill="#1e1e1e" stroke="#2a2a2a" stroke-width="0.16">LMPP</text>
<rect x="109.4" y="218.73" width="5.2" height="30.27" fill="#de563c" stroke="#3a3a3a" stroke-width="0.3"/>
<line x1="112" y1="218.73" x2="112" y2="206.77" stroke="#555" stroke-width="0.4"/>
<line x1="110.9" y1="206.77" x2="113.1" y2="206.77" stroke="#555" stroke-width="0.4"/>
<line x1="109.4" y1="219.23" x2="114.6" y2="219.23" stroke="#444" stroke-width="0.7" opacity="0.6"/>
<circle cx="112" cy="207.07" r="0.75" fill="none" stroke="#555" stroke-width="0.35"/>
<text transform="translate(112.9,254.8) rotate(-45)" font-size="4.1" text-anchor="end" fill="#1e1e1e" stroke="#2a2a2a" stroke-width="0.16">MLP</text>
<rect x="116.46" y="217.26" width="5.2" height="31.74" fill="#f4c534" stroke="#3a3a3a" stroke-width="0.3"/>
<line x1="119.06" y1="217.26" x2="119.06" y2="211.74" stroke="#555" stroke-width="0.4"/>
<line x1="117.96" y1="211.74" x2="120.16" y2="211.74" stroke="#555" stroke-width="0.4"/>
<line x1="116.46" y1="217.76" x2="121.66" y2="217.76" stroke="#444" stroke-width="0.7" opacity="0.6"/>
<circle cx="119.06" cy="212.04" r="0.75" fill="none" stroke="#555" stroke-width="0.35"/>
<text transform="translate(119.96,254.8) rotate(-45)" font-size="4.1" text-anchor="end" fill="#1e1e1e" stroke="#2a2a2a" stroke-width="0.16">B/NK</text>
<rect x="123.52" y="231.51" width="5.2" height="17.49" fill="#9fc48e" stroke="#3a3a3a" stroke-width="0.3"/>
<line x1="126.12" y1="231.51" x2="126.12" y2="229.23" stroke="#555" stroke-width="0.4"/>
<line x1="125.02" y1="229.23" x2="127.22" y2="229.23" stroke="#555" stroke-width="0.4"/>
<line x1="123.52" y1="232.01" x2="128.72" y2="232.01" stroke="#444" stroke-width="0.7" opacity="0.6"/>
<circle cx="126.12" cy="229.53" r="0.75" fill="none" stroke="#555" stroke-width="0.35"/>
<text transform="translate(127.02,254.8) rotate(-45)" font-size="4.1" text-anchor="end" fill="#1e1e1e" stroke="#2a2a2a" stroke-width="0.16">GMP</text>
<line x1="75.9" y1="193" x2="126.3" y2="193" stroke="#a0a0a0" stroke-width="0.4"/>
<text x="100.7" y="194.8" font-size="5" font-weight="bold" letter-spacing="0.25" text-anchor="middle" fill="#2a2a2a">***</text>
<line x1="75.9" y1="195.8" x2="104.6" y2="195.8" stroke="#a0a0a0" stroke-width="0.4"/>
<text x="89.8" y="197.6" font-size="5" font-weight="bold" letter-spacing="0.25" text-anchor="middle" fill="#2a2a2a">*</text>
<line x1="75.9" y1="198.9" x2="96.8" y2="198.9" stroke="#a0a0a0" stroke-width="0.4"/>
<text x="86.3" y="200.7" font-size="5" font-weight="bold" letter-spacing="0.25" text-anchor="middle" fill="#2a2a2a">*</text>
<line x1="75.9" y1="201.4" x2="89.8" y2="201.4" stroke="#a0a0a0" stroke-width="0.4"/>
<text x="83.2" y="203.2" font-size="5" font-weight="bold" letter-spacing="0.25" text-anchor="middle" fill="#2a2a2a">***</text>
<line x1="75.9" y1="204.2" x2="82" y2="204.2" stroke="#a0a0a0" stroke-width="0.4"/>
<text x="79.9" y="206" font-size="5" font-weight="bold" letter-spacing="0.25" text-anchor="middle" fill="#2a2a2a">**</text>
<line x1="98.3" y1="218.7" x2="105.7" y2="218.7" stroke="#a0a0a0" stroke-width="0.4"/>
<text x="101.3" y="220.5" font-size="5" font-weight="bold" letter-spacing="0.25" text-anchor="middle" fill="#2a2a2a">*</text>
<line x1="209.8" y1="197.9" x2="209.8" y2="249.2" stroke="#333" stroke-width="0.5"/>
<line x1="209.8" y1="249.2" x2="266" y2="249.2" stroke="#333" stroke-width="0.5"/>
<line x1="208.6" y1="249.2" x2="209.8" y2="249.2" stroke="#333" stroke-width="0.45"/>
<text x="207.7" y="250.65" font-size="4.1" text-anchor="end" fill="#1e1e1e" stroke="#2a2a2a" stroke-width="0.16">0</text>
<line x1="208.6" y1="236.45" x2="209.8" y2="236.45" stroke="#333" stroke-width="0.45"/>
<text x="207.7" y="237.9" font-size="4.1" text-anchor="end" fill="#1e1e1e" stroke="#2a2a2a" stroke-width="0.16">5000</text>
<line x1="208.6" y1="223.7" x2="209.8" y2="223.7" stroke="#333" stroke-width="0.45"/>
<text x="207.7" y="225.15" font-size="4.1" text-anchor="end" fill="#1e1e1e" stroke="#2a2a2a" stroke-width="0.16">10000</text>
<line x1="208.6" y1="210.95" x2="209.8" y2="210.95" stroke="#333" stroke-width="0.45"/>
<text x="207.7" y="212.4" font-size="4.1" text-anchor="end" fill="#1e1e1e" stroke="#2a2a2a" stroke-width="0.16">15000</text>
<line x1="208.6" y1="198.2" x2="209.8" y2="198.2" stroke="#333" stroke-width="0.45"/>
<text x="207.7" y="199.65" font-size="4.1" text-anchor="end" fill="#1e1e1e" stroke="#2a2a2a" stroke-width="0.16">20000</text>
<text transform="translate(196.3,223.7) rotate(-90)" font-size="4.4" text-anchor="middle" fill="#1e1e1e" stroke="#2a2a2a" stroke-width="0.16">MFI</text>
<rect x="211.2" y="214.39" width="5.4" height="34.81" fill="#2a8cb2" stroke="#3a3a3a" stroke-width="0.3"/>
<line x1="213.9" y1="214.39" x2="213.9" y2="210.44" stroke="#555" stroke-width="0.4"/>
<line x1="212.8" y1="210.44" x2="215" y2="210.44" stroke="#555" stroke-width="0.4"/>
<line x1="211.2" y1="214.89" x2="216.6" y2="214.89" stroke="#444" stroke-width="0.7" opacity="0.6"/>
<circle cx="213.9" cy="210.74" r="0.75" fill="none" stroke="#555" stroke-width="0.35"/>
<text transform="translate(214.8,255) rotate(-45)" font-size="4.1" text-anchor="end" fill="#1e1e1e" stroke="#2a2a2a" stroke-width="0.16">HSC</text>
<rect x="218.29" y="234.84" width="5.4" height="14.36" fill="#ee7b7b" stroke="#3a3a3a" stroke-width="0.3"/>
<line x1="220.99" y1="234.84" x2="220.99" y2="231.6" stroke="#555" stroke-width="0.4"/>
<line x1="219.89" y1="231.6" x2="222.09" y2="231.6" stroke="#555" stroke-width="0.4"/>
<line x1="218.29" y1="235.34" x2="223.69" y2="235.34" stroke="#444" stroke-width="0.7" opacity="0.6"/>
<circle cx="220.99" cy="231.91" r="0.75" fill="none" stroke="#555" stroke-width="0.35"/>
<text transform="translate(221.89,255) rotate(-45)" font-size="4.1" text-anchor="end" fill="#1e1e1e" stroke="#2a2a2a" stroke-width="0.16">MPP</text>
<rect x="225.38" y="246.22" width="5.4" height="2.98" fill="#694a78" stroke="#3a3a3a" stroke-width="0.3"/>
<line x1="228.08" y1="246.22" x2="228.08" y2="246.01" stroke="#555" stroke-width="0.4"/>
<line x1="226.98" y1="246.01" x2="229.18" y2="246.01" stroke="#555" stroke-width="0.4"/>
<line x1="225.38" y1="246.72" x2="230.78" y2="246.72" stroke="#444" stroke-width="0.7" opacity="0.6"/>
<circle cx="228.08" cy="246.31" r="0.75" fill="none" stroke="#555" stroke-width="0.35"/>
<text transform="translate(228.98,255) rotate(-45)" font-size="4.1" text-anchor="end" fill="#1e1e1e" stroke="#2a2a2a" stroke-width="0.16">CMP</text>
<rect x="232.47" y="246.8" width="5.4" height="2.4" fill="#7f9bc6" stroke="#3a3a3a" stroke-width="0.3"/>
<line x1="235.17" y1="246.8" x2="235.17" y2="246.65" stroke="#555" stroke-width="0.4"/>
<line x1="234.07" y1="246.65" x2="236.27" y2="246.65" stroke="#555" stroke-width="0.4"/>
<line x1="232.47" y1="247.3" x2="237.87" y2="247.3" stroke="#444" stroke-width="0.7" opacity="0.6"/>
<circle cx="235.17" cy="246.95" r="0.75" fill="none" stroke="#555" stroke-width="0.35"/>
<text transform="translate(236.07,255) rotate(-45)" font-size="4.1" text-anchor="end" fill="#1e1e1e" stroke="#2a2a2a" stroke-width="0.16">MEP</text>
<rect x="239.56" y="231.86" width="5.4" height="17.34" fill="#6d1a2a" stroke="#3a3a3a" stroke-width="0.3"/>
<line x1="242.26" y1="231.86" x2="242.26" y2="219.62" stroke="#555" stroke-width="0.4"/>
<line x1="241.16" y1="219.62" x2="243.36" y2="219.62" stroke="#555" stroke-width="0.4"/>
<line x1="239.56" y1="232.36" x2="244.96" y2="232.36" stroke="#444" stroke-width="0.7" opacity="0.6"/>
<circle cx="242.26" cy="219.92" r="0.75" fill="none" stroke="#555" stroke-width="0.35"/>
<text transform="translate(243.16,255) rotate(-45)" font-size="4.1" text-anchor="end" fill="#1e1e1e" stroke="#2a2a2a" stroke-width="0.16">LMPP</text>
<rect x="246.65" y="232.75" width="5.4" height="16.45" fill="#de563c" stroke="#3a3a3a" stroke-width="0.3"/>
<line x1="249.35" y1="232.75" x2="249.35" y2="223.32" stroke="#555" stroke-width="0.4"/>
<line x1="248.25" y1="223.32" x2="250.45" y2="223.32" stroke="#555" stroke-width="0.4"/>
<line x1="246.65" y1="233.25" x2="252.05" y2="233.25" stroke="#444" stroke-width="0.7" opacity="0.6"/>
<circle cx="249.35" cy="223.62" r="0.75" fill="none" stroke="#555" stroke-width="0.35"/>
<text transform="translate(250.25,255) rotate(-45)" font-size="4.1" text-anchor="end" fill="#1e1e1e" stroke="#2a2a2a" stroke-width="0.16">MLP</text>
<rect x="253.74" y="246.22" width="5.4" height="2.98" fill="#f4c534" stroke="#3a3a3a" stroke-width="0.3"/>
<line x1="256.44" y1="246.22" x2="256.44" y2="246.01" stroke="#555" stroke-width="0.4"/>
<line x1="255.34" y1="246.01" x2="257.54" y2="246.01" stroke="#555" stroke-width="0.4"/>
<line x1="253.74" y1="246.72" x2="259.14" y2="246.72" stroke="#444" stroke-width="0.7" opacity="0.6"/>
<circle cx="256.44" cy="246.31" r="0.75" fill="none" stroke="#555" stroke-width="0.35"/>
<text transform="translate(257.34,255) rotate(-45)" font-size="4.1" text-anchor="end" fill="#1e1e1e" stroke="#2a2a2a" stroke-width="0.16">B/NK</text>
<rect x="260.83" y="245.02" width="5.4" height="4.18" fill="#9fc48e" stroke="#3a3a3a" stroke-width="0.3"/>
<line x1="263.53" y1="245.02" x2="263.53" y2="244.74" stroke="#555" stroke-width="0.4"/>
<line x1="262.43" y1="244.74" x2="264.63" y2="244.74" stroke="#555" stroke-width="0.4"/>
<line x1="260.83" y1="245.52" x2="266.23" y2="245.52" stroke="#444" stroke-width="0.7" opacity="0.6"/>
<circle cx="263.53" cy="245.04" r="0.75" fill="none" stroke="#555" stroke-width="0.35"/>
<text transform="translate(264.43,255) rotate(-45)" font-size="4.1" text-anchor="end" fill="#1e1e1e" stroke="#2a2a2a" stroke-width="0.16">GMP</text>
<line x1="211.9" y1="190.7" x2="262.3" y2="190.7" stroke="#a0a0a0" stroke-width="0.4"/>
<text x="237.5" y="192.5" font-size="5" font-weight="bold" letter-spacing="0.25" text-anchor="middle" fill="#2a2a2a">*</text>
<line x1="211.9" y1="193.8" x2="255.3" y2="193.8" stroke="#a0a0a0" stroke-width="0.4"/>
<text x="233.6" y="195.6" font-size="5" font-weight="bold" letter-spacing="0.25" text-anchor="middle" fill="#2a2a2a">*</text>
<line x1="211.9" y1="197.2" x2="233.6" y2="197.2" stroke="#a0a0a0" stroke-width="0.4"/>
<text x="222.7" y="199" font-size="5" font-weight="bold" letter-spacing="0.25" text-anchor="middle" fill="#2a2a2a">*</text>
<line x1="211.9" y1="200.7" x2="228.2" y2="200.7" stroke="#a0a0a0" stroke-width="0.4"/>
<text x="219.6" y="202.5" font-size="5" font-weight="bold" letter-spacing="0.25" text-anchor="middle" fill="#2a2a2a">*</text>
<line x1="211.9" y1="203.8" x2="222.7" y2="203.8" stroke="#a0a0a0" stroke-width="0.4"/>
<text x="216.5" y="205.6" font-size="5" font-weight="bold" letter-spacing="0.25" text-anchor="middle" fill="#2a2a2a">*</text>
<line x1="340.8" y1="197.5" x2="340.8" y2="249.1" stroke="#333" stroke-width="0.5"/>
<line x1="340.8" y1="249.1" x2="399" y2="249.1" stroke="#333" stroke-width="0.5"/>
<line x1="339.6" y1="249.1" x2="340.8" y2="249.1" stroke="#333" stroke-width="0.45"/>
<text x="338.7" y="250.55" font-size="4.1" text-anchor="end" fill="#1e1e1e" stroke="#2a2a2a" stroke-width="0.16">0</text>
<line x1="339.6" y1="236.28" x2="340.8" y2="236.28" stroke="#333" stroke-width="0.45"/>
<text x="338.7" y="237.72" font-size="4.1" text-anchor="end" fill="#1e1e1e" stroke="#2a2a2a" stroke-width="0.16">500</text>
<line x1="339.6" y1="223.45" x2="340.8" y2="223.45" stroke="#333" stroke-width="0.45"/>
<text x="338.7" y="224.9" font-size="4.1" text-anchor="end" fill="#1e1e1e" stroke="#2a2a2a" stroke-width="0.16">1000</text>
<line x1="339.6" y1="210.62" x2="340.8" y2="210.62" stroke="#333" stroke-width="0.45"/>
<text x="338.7" y="212.07" font-size="4.1" text-anchor="end" fill="#1e1e1e" stroke="#2a2a2a" stroke-width="0.16">1500</text>
<line x1="339.6" y1="197.8" x2="340.8" y2="197.8" stroke="#333" stroke-width="0.45"/>
<text x="338.7" y="199.25" font-size="4.1" text-anchor="end" fill="#1e1e1e" stroke="#2a2a2a" stroke-width="0.16">2000</text>
<text transform="translate(329.2,223.45) rotate(-90)" font-size="4.4" text-anchor="middle" fill="#1e1e1e" stroke="#2a2a2a" stroke-width="0.16">MFI</text>
<rect x="342.7" y="212.75" width="5.2" height="36.35" fill="#2a8cb2" stroke="#3a3a3a" stroke-width="0.3"/>
<line x1="345.3" y1="212.75" x2="345.3" y2="211.91" stroke="#555" stroke-width="0.4"/>
<line x1="344.2" y1="211.91" x2="346.4" y2="211.91" stroke="#555" stroke-width="0.4"/>
<line x1="342.7" y1="213.25" x2="347.9" y2="213.25" stroke="#444" stroke-width="0.7" opacity="0.6"/>
<circle cx="345.3" cy="212.21" r="0.75" fill="none" stroke="#555" stroke-width="0.35"/>
<text transform="translate(346.2,254.9) rotate(-45)" font-size="4.1" text-anchor="end" fill="#1e1e1e" stroke="#2a2a2a" stroke-width="0.16">HSC</text>
<rect x="349.83" y="231.5" width="5.2" height="17.6" fill="#ee7b7b" stroke="#3a3a3a" stroke-width="0.3"/>
<line x1="352.43" y1="231.5" x2="352.43" y2="230.63" stroke="#555" stroke-width="0.4"/>
<line x1="351.33" y1="230.63" x2="353.53" y2="230.63" stroke="#555" stroke-width="0.4"/>
<line x1="349.83" y1="232" x2="355.03" y2="232" stroke="#444" stroke-width="0.7" opacity="0.6"/>
<circle cx="352.43" cy="230.93" r="0.75" fill="none" stroke="#555" stroke-width="0.35"/>
<text transform="translate(353.33,254.9) rotate(-45)" font-size="4.1" text-anchor="end" fill="#1e1e1e" stroke="#2a2a2a" stroke-width="0.16">MPP</text>
<rect x="356.96" y="222.5" width="5.2" height="26.6" fill="#694a78" stroke="#3a3a3a" stroke-width="0.3"/>
<line x1="359.56" y1="222.5" x2="359.56" y2="221.91" stroke="#555" stroke-width="0.4"/>
<line x1="358.46" y1="221.91" x2="360.66" y2="221.91" stroke="#555" stroke-width="0.4"/>
<line x1="356.96" y1="223" x2="362.16" y2="223" stroke="#444" stroke-width="0.7" opacity="0.6"/>
<circle cx="359.56" cy="222.21" r="0.75" fill="none" stroke="#555" stroke-width="0.35"/>
<text transform="translate(360.46,254.9) rotate(-45)" font-size="4.1" text-anchor="end" fill="#1e1e1e" stroke="#2a2a2a" stroke-width="0.16">CMP</text>
<rect x="364.09" y="230.76" width="5.2" height="18.34" fill="#7f9bc6" stroke="#3a3a3a" stroke-width="0.3"/>
<line x1="366.69" y1="230.76" x2="366.69" y2="230.38" stroke="#555" stroke-width="0.4"/>
<line x1="365.59" y1="230.38" x2="367.79" y2="230.38" stroke="#555" stroke-width="0.4"/>
<line x1="364.09" y1="231.26" x2="369.29" y2="231.26" stroke="#444" stroke-width="0.7" opacity="0.6"/>
<circle cx="366.69" cy="230.68" r="0.75" fill="none" stroke="#555" stroke-width="0.35"/>
<text transform="translate(367.59,254.9) rotate(-45)" font-size="4.1" text-anchor="end" fill="#1e1e1e" stroke="#2a2a2a" stroke-width="0.16">MEP</text>
<rect x="371.22" y="229.25" width="5.2" height="19.85" fill="#6d1a2a" stroke="#3a3a3a" stroke-width="0.3"/>
<line x1="373.82" y1="229.25" x2="373.82" y2="227.3" stroke="#555" stroke-width="0.4"/>
<line x1="372.72" y1="227.3" x2="374.92" y2="227.3" stroke="#555" stroke-width="0.4"/>
<line x1="371.22" y1="229.75" x2="376.42" y2="229.75" stroke="#444" stroke-width="0.7" opacity="0.6"/>
<circle cx="373.82" cy="227.6" r="0.75" fill="none" stroke="#555" stroke-width="0.35"/>
<text transform="translate(374.72,254.9) rotate(-45)" font-size="4.1" text-anchor="end" fill="#1e1e1e" stroke="#2a2a2a" stroke-width="0.16">LMPP</text>
<rect x="378.35" y="231.5" width="5.2" height="17.6" fill="#de563c" stroke="#3a3a3a" stroke-width="0.3"/>
<line x1="380.95" y1="231.5" x2="380.95" y2="229.61" stroke="#555" stroke-width="0.4"/>
<line x1="379.85" y1="229.61" x2="382.05" y2="229.61" stroke="#555" stroke-width="0.4"/>
<line x1="378.35" y1="232" x2="383.55" y2="232" stroke="#444" stroke-width="0.7" opacity="0.6"/>
<circle cx="380.95" cy="229.91" r="0.75" fill="none" stroke="#555" stroke-width="0.35"/>
<text transform="translate(381.85,254.9) rotate(-45)" font-size="4.1" text-anchor="end" fill="#1e1e1e" stroke="#2a2a2a" stroke-width="0.16">MLP</text>
<rect x="385.48" y="215.75" width="5.2" height="33.34" fill="#f4c534" stroke="#3a3a3a" stroke-width="0.3"/>
<line x1="388.08" y1="215.75" x2="388.08" y2="214.73" stroke="#555" stroke-width="0.4"/>
<line x1="386.98" y1="214.73" x2="389.18" y2="214.73" stroke="#555" stroke-width="0.4"/>
<line x1="385.48" y1="216.25" x2="390.68" y2="216.25" stroke="#444" stroke-width="0.7" opacity="0.6"/>
<circle cx="388.08" cy="215.03" r="0.75" fill="none" stroke="#555" stroke-width="0.35"/>
<text transform="translate(388.98,254.9) rotate(-45)" font-size="4.1" text-anchor="end" fill="#1e1e1e" stroke="#2a2a2a" stroke-width="0.16">B/NK</text>
<rect x="392.61" y="228.81" width="5.2" height="20.29" fill="#9fc48e" stroke="#3a3a3a" stroke-width="0.3"/>
<line x1="395.21" y1="228.81" x2="395.21" y2="228.32" stroke="#555" stroke-width="0.4"/>
<line x1="394.11" y1="228.32" x2="396.31" y2="228.32" stroke="#555" stroke-width="0.4"/>
<line x1="392.61" y1="229.31" x2="397.81" y2="229.31" stroke="#444" stroke-width="0.7" opacity="0.6"/>
<circle cx="395.21" cy="228.62" r="0.75" fill="none" stroke="#555" stroke-width="0.35"/>
<text transform="translate(396.11,254.9) rotate(-45)" font-size="4.1" text-anchor="end" fill="#1e1e1e" stroke="#2a2a2a" stroke-width="0.16">GMP</text>
<line x1="345.2" y1="197.5" x2="396.2" y2="197.5" stroke="#a0a0a0" stroke-width="0.4"/>
<text x="370.3" y="199.3" font-size="5" font-weight="bold" letter-spacing="0.25" text-anchor="middle" fill="#2a2a2a">***</text>
<line x1="345.2" y1="202.2" x2="388" y2="202.2" stroke="#a0a0a0" stroke-width="0.4"/>
<text x="355.7" y="204" font-size="5" font-weight="bold" letter-spacing="0.25" text-anchor="middle" fill="#2a2a2a">*</text>
<text x="377.5" y="204" font-size="5" font-weight="bold" letter-spacing="0.25" text-anchor="middle" fill="#2a2a2a">*</text>
<line x1="345.2" y1="205.7" x2="388" y2="205.7" stroke="#a0a0a0" stroke-width="0.4"/>
<text x="352.7" y="207.5" font-size="5" font-weight="bold" letter-spacing="0.25" text-anchor="middle" fill="#2a2a2a">**</text>
<text x="377.5" y="207.5" font-size="5" font-weight="bold" letter-spacing="0.25" text-anchor="middle" fill="#2a2a2a">*</text>
<text x="349" y="210.5" font-size="5" font-weight="bold" letter-spacing="0.25" text-anchor="middle" fill="#2a2a2a">***</text>
<line x1="359.5" y1="209.3" x2="367" y2="209.3" stroke="#a0a0a0" stroke-width="0.4"/>
<text x="363.2" y="211.1" font-size="5" font-weight="bold" letter-spacing="0.25" text-anchor="middle" fill="#2a2a2a">*</text>
<line x1="352" y1="212" x2="389.5" y2="212" stroke="#a0a0a0" stroke-width="0.4"/>
<text x="370" y="213.8" font-size="5" font-weight="bold" letter-spacing="0.25" text-anchor="middle" fill="#2a2a2a">***</text>
<line x1="352.7" y1="219.2" x2="359.5" y2="219.2" stroke="#a0a0a0" stroke-width="0.4"/>
<text x="355.7" y="221" font-size="5" font-weight="bold" letter-spacing="0.25" text-anchor="middle" fill="#2a2a2a">*</text>
<line x1="70.6" y1="292.7" x2="70.6" y2="343.8" stroke="#333" stroke-width="0.5"/>
<line x1="70.6" y1="343.8" x2="128.08" y2="343.8" stroke="#333" stroke-width="0.5"/>
<line x1="69.4" y1="343.8" x2="70.6" y2="343.8" stroke="#333" stroke-width="0.45"/>
<text x="68.5" y="345.25" font-size="4.1" text-anchor="end" fill="#1e1e1e" stroke="#2a2a2a" stroke-width="0.16">0</text>
<line x1="69.4" y1="331.1" x2="70.6" y2="331.1" stroke="#333" stroke-width="0.45"/>
<text x="68.5" y="332.55" font-size="4.1" text-anchor="end" fill="#1e1e1e" stroke="#2a2a2a" stroke-width="0.16">200</text>
<line x1="69.4" y1="318.4" x2="70.6" y2="318.4" stroke="#333" stroke-width="0.45"/>
<text x="68.5" y="319.85" font-size="4.1" text-anchor="end" fill="#1e1e1e" stroke="#2a2a2a" stroke-width="0.16">400</text>
<line x1="69.4" y1="305.7" x2="70.6" y2="305.7" stroke="#333" stroke-width="0.45"/>
<text x="68.5" y="307.15" font-size="4.1" text-anchor="end" fill="#1e1e1e" stroke="#2a2a2a" stroke-width="0.16">600</text>
<line x1="69.4" y1="293" x2="70.6" y2="293" stroke="#333" stroke-width="0.45"/>
<text x="68.5" y="294.45" font-size="4.1" text-anchor="end" fill="#1e1e1e" stroke="#2a2a2a" stroke-width="0.16">800</text>
<text transform="translate(59.7,318.4) rotate(-90)" font-size="4.4" text-anchor="middle" fill="#1e1e1e" stroke="#2a2a2a" stroke-width="0.16">MFI</text>
<rect x="72.35" y="307.73" width="5.3" height="36.07" fill="#2a8cb2" stroke="#3a3a3a" stroke-width="0.3"/>
<line x1="75" y1="307.73" x2="75" y2="303.16" stroke="#555" stroke-width="0.4"/>
<line x1="73.9" y1="303.16" x2="76.1" y2="303.16" stroke="#555" stroke-width="0.4"/>
<line x1="72.35" y1="308.23" x2="77.65" y2="308.23" stroke="#444" stroke-width="0.7" opacity="0.6"/>
<circle cx="75" cy="303.46" r="0.75" fill="none" stroke="#555" stroke-width="0.35"/>
<text transform="translate(75.9,349.6) rotate(-45)" font-size="4.1" text-anchor="end" fill="#1e1e1e" stroke="#2a2a2a" stroke-width="0.16">HSC</text>
<rect x="79.44" y="325.64" width="5.3" height="18.16" fill="#ee7b7b" stroke="#3a3a3a" stroke-width="0.3"/>
<line x1="82.09" y1="325.64" x2="82.09" y2="324.75" stroke="#555" stroke-width="0.4"/>
<line x1="80.99" y1="324.75" x2="83.19" y2="324.75" stroke="#555" stroke-width="0.4"/>
<line x1="79.44" y1="326.14" x2="84.74" y2="326.14" stroke="#444" stroke-width="0.7" opacity="0.6"/>
<circle cx="82.09" cy="325.05" r="0.75" fill="none" stroke="#555" stroke-width="0.35"/>
<text transform="translate(82.99,349.6) rotate(-45)" font-size="4.1" text-anchor="end" fill="#1e1e1e" stroke="#2a2a2a" stroke-width="0.16">MPP</text>
<rect x="86.53" y="328.62" width="5.3" height="15.18" fill="#694a78" stroke="#3a3a3a" stroke-width="0.3"/>
<line x1="89.18" y1="328.62" x2="89.18" y2="327.61" stroke="#555" stroke-width="0.4"/>
<line x1="88.08" y1="327.61" x2="90.28" y2="327.61" stroke="#555" stroke-width="0.4"/>
<line x1="86.53" y1="329.12" x2="91.83" y2="329.12" stroke="#444" stroke-width="0.7" opacity="0.6"/>
<circle cx="89.18" cy="327.91" r="0.75" fill="none" stroke="#555" stroke-width="0.35"/>
<text transform="translate(90.08,349.6) rotate(-45)" font-size="4.1" text-anchor="end" fill="#1e1e1e" stroke="#2a2a2a" stroke-width="0.16">CMP</text>
<rect x="93.62" y="334.21" width="5.3" height="9.59" fill="#7f9bc6" stroke="#3a3a3a" stroke-width="0.3"/>
<line x1="96.27" y1="334.21" x2="96.27" y2="333.64" stroke="#555" stroke-width="0.4"/>
<line x1="95.17" y1="333.64" x2="97.37" y2="333.64" stroke="#555" stroke-width="0.4"/>
<line x1="93.62" y1="334.71" x2="98.92" y2="334.71" stroke="#444" stroke-width="0.7" opacity="0.6"/>
<circle cx="96.27" cy="333.94" r="0.75" fill="none" stroke="#555" stroke-width="0.35"/>
<text transform="translate(97.17,349.6) rotate(-45)" font-size="4.1" text-anchor="end" fill="#1e1e1e" stroke="#2a2a2a" stroke-width="0.16">MEP</text>
<rect x="100.71" y="321.57" width="5.3" height="22.23" fill="#6d1a2a" stroke="#3a3a3a" stroke-width="0.3"/>
<line x1="103.36" y1="321.57" x2="103.36" y2="320.94" stroke="#555" stroke-width="0.4"/>
<line x1="102.26" y1="320.94" x2="104.46" y2="320.94" stroke="#555" stroke-width="0.4"/>
<line x1="100.71" y1="322.07" x2="106.01" y2="322.07" stroke="#444" stroke-width="0.7" opacity="0.6"/>
<circle cx="103.36" cy="321.24" r="0.75" fill="none" stroke="#555" stroke-width="0.35"/>
<text transform="translate(104.26,349.6) rotate(-45)" font-size="4.1" text-anchor="end" fill="#1e1e1e" stroke="#2a2a2a" stroke-width="0.16">LMPP</text>
<rect x="107.8" y="313.64" width="5.3" height="30.16" fill="#de563c" stroke="#3a3a3a" stroke-width="0.3"/>
<line x1="110.45" y1="313.64" x2="110.45" y2="304.75" stroke="#555" stroke-width="0.4"/>
<line x1="109.35" y1="304.75" x2="111.55" y2="304.75" stroke="#555" stroke-width="0.4"/>
<line x1="107.8" y1="314.14" x2="113.1" y2="314.14" stroke="#444" stroke-width="0.7" opacity="0.6"/>
<circle cx="110.45" cy="305.05" r="0.75" fill="none" stroke="#555" stroke-width="0.35"/>
<text transform="translate(111.35,349.6) rotate(-45)" font-size="4.1" text-anchor="end" fill="#1e1e1e" stroke="#2a2a2a" stroke-width="0.16">MLP</text>
<rect x="114.89" y="318.91" width="5.3" height="24.89" fill="#f4c534" stroke="#3a3a3a" stroke-width="0.3"/>
<line x1="117.54" y1="318.91" x2="117.54" y2="315.99" stroke="#555" stroke-width="0.4"/>
<line x1="116.44" y1="315.99" x2="118.64" y2="315.99" stroke="#555" stroke-width="0.4"/>
<line x1="114.89" y1="319.41" x2="120.19" y2="319.41" stroke="#444" stroke-width="0.7" opacity="0.6"/>
<circle cx="117.54" cy="316.29" r="0.75" fill="none" stroke="#555" stroke-width="0.35"/>
<text transform="translate(118.44,349.6) rotate(-45)" font-size="4.1" text-anchor="end" fill="#1e1e1e" stroke="#2a2a2a" stroke-width="0.16">B/NK</text>
<rect x="121.98" y="332.81" width="5.3" height="10.99" fill="#9fc48e" stroke="#3a3a3a" stroke-width="0.3"/>
<line x1="124.63" y1="332.81" x2="124.63" y2="332.24" stroke="#555" stroke-width="0.4"/>
<line x1="123.53" y1="332.24" x2="125.73" y2="332.24" stroke="#555" stroke-width="0.4"/>
<line x1="121.98" y1="333.31" x2="127.28" y2="333.31" stroke="#444" stroke-width="0.7" opacity="0.6"/>
<circle cx="124.63" cy="332.54" r="0.75" fill="none" stroke="#555" stroke-width="0.35"/>
<text transform="translate(125.53,349.6) rotate(-45)" font-size="4.1" text-anchor="end" fill="#1e1e1e" stroke="#2a2a2a" stroke-width="0.16">GMP</text>
<line x1="76" y1="293.3" x2="126.3" y2="293.3" stroke="#a0a0a0" stroke-width="0.4"/>
<text x="100.8" y="295.1" font-size="5" font-weight="bold" letter-spacing="0.25" text-anchor="middle" fill="#2a2a2a">*</text>
<line x1="89.5" y1="296.2" x2="126.3" y2="296.2" stroke="#a0a0a0" stroke-width="0.4"/>
<text x="108.2" y="298" font-size="5" font-weight="bold" letter-spacing="0.25" text-anchor="middle" fill="#2a2a2a">*</text>
<line x1="76" y1="299.5" x2="126.3" y2="299.5" stroke="#a0a0a0" stroke-width="0.4"/>
<text x="85.8" y="301.3" font-size="5" font-weight="bold" letter-spacing="0.25" text-anchor="middle" fill="#2a2a2a">*</text>
<text x="112" y="301.3" font-size="5" font-weight="bold" letter-spacing="0.25" text-anchor="middle" fill="#2a2a2a">*</text>
<line x1="76" y1="301.8" x2="80" y2="301.8" stroke="#a0a0a0" stroke-width="0.4"/>
<text x="78.3" y="303.6" font-size="5" font-weight="bold" letter-spacing="0.25" text-anchor="middle" fill="#2a2a2a">*</text>
<line x1="105.2" y1="303.7" x2="126.3" y2="303.7" stroke="#a0a0a0" stroke-width="0.4"/>
<text x="115.4" y="305.5" font-size="5" font-weight="bold" letter-spacing="0.25" text-anchor="middle" fill="#2a2a2a">**</text>
<line x1="98" y1="317.2" x2="103" y2="317.2" stroke="#a0a0a0" stroke-width="0.4"/>
<text x="100.4" y="319" font-size="5" font-weight="bold" letter-spacing="0.25" text-anchor="middle" fill="#2a2a2a">***</text>
<line x1="82" y1="322.5" x2="94.8" y2="322.5" stroke="#a0a0a0" stroke-width="0.4"/>
<text x="88.3" y="324.3" font-size="5" font-weight="bold" letter-spacing="0.25" text-anchor="middle" fill="#2a2a2a">*</text>
<line x1="205.5" y1="292.7" x2="205.5" y2="344" stroke="#333" stroke-width="0.5"/>
<line x1="205.5" y1="344" x2="263.37" y2="344" stroke="#333" stroke-width="0.5"/>
<line x1="204.3" y1="344" x2="205.5" y2="344" stroke="#333" stroke-width="0.45"/>
<text x="203.4" y="345.45" font-size="4.1" text-anchor="end" fill="#1e1e1e" stroke="#2a2a2a" stroke-width="0.16">0</text>
<line x1="204.3" y1="327" x2="205.5" y2="327" stroke="#333" stroke-width="0.45"/>
<text x="203.4" y="328.45" font-size="4.1" text-anchor="end" fill="#1e1e1e" stroke="#2a2a2a" stroke-width="0.16">500</text>
<line x1="204.3" y1="310" x2="205.5" y2="310" stroke="#333" stroke-width="0.45"/>
<text x="203.4" y="311.45" font-size="4.1" text-anchor="end" fill="#1e1e1e" stroke="#2a2a2a" stroke-width="0.16">1000</text>
<line x1="204.3" y1="293" x2="205.5" y2="293" stroke="#333" stroke-width="0.45"/>
<text x="203.4" y="294.45" font-size="4.1" text-anchor="end" fill="#1e1e1e" stroke="#2a2a2a" stroke-width="0.16">1500</text>
<text transform="translate(193.5,318.5) rotate(-90)" font-size="4.4" text-anchor="middle" fill="#1e1e1e" stroke="#2a2a2a" stroke-width="0.16">MFI</text>
<rect x="208.05" y="305.92" width="5.1" height="38.08" fill="#2a8cb2" stroke="#3a3a3a" stroke-width="0.3"/>
<line x1="210.6" y1="305.92" x2="210.6" y2="300.72" stroke="#555" stroke-width="0.4"/>
<line x1="209.5" y1="300.72" x2="211.7" y2="300.72" stroke="#555" stroke-width="0.4"/>
<line x1="208.05" y1="306.42" x2="213.15" y2="306.42" stroke="#444" stroke-width="0.7" opacity="0.6"/>
<circle cx="210.6" cy="301.02" r="0.75" fill="none" stroke="#555" stroke-width="0.35"/>
<text transform="translate(211.5,349.8) rotate(-45)" font-size="4.1" text-anchor="end" fill="#1e1e1e" stroke="#2a2a2a" stroke-width="0.16">HSC</text>
<rect x="215.11" y="325.74" width="5.1" height="18.26" fill="#ee7b7b" stroke="#3a3a3a" stroke-width="0.3"/>
<line x1="217.66" y1="325.74" x2="217.66" y2="322.75" stroke="#555" stroke-width="0.4"/>
<line x1="216.56" y1="322.75" x2="218.76" y2="322.75" stroke="#555" stroke-width="0.4"/>
<line x1="215.11" y1="326.24" x2="220.21" y2="326.24" stroke="#444" stroke-width="0.7" opacity="0.6"/>
<circle cx="217.66" cy="323.05" r="0.75" fill="none" stroke="#555" stroke-width="0.35"/>
<text transform="translate(218.56,349.8) rotate(-45)" font-size="4.1" text-anchor="end" fill="#1e1e1e" stroke="#2a2a2a" stroke-width="0.16">MPP</text>
<rect x="222.17" y="316.02" width="5.1" height="27.98" fill="#694a78" stroke="#3a3a3a" stroke-width="0.3"/>
<line x1="224.72" y1="316.02" x2="224.72" y2="314.22" stroke="#555" stroke-width="0.4"/>
<line x1="223.62" y1="314.22" x2="225.82" y2="314.22" stroke="#555" stroke-width="0.4"/>
<line x1="222.17" y1="316.52" x2="227.27" y2="316.52" stroke="#444" stroke-width="0.7" opacity="0.6"/>
<circle cx="224.72" cy="314.52" r="0.75" fill="none" stroke="#555" stroke-width="0.35"/>
<text transform="translate(225.62,349.8) rotate(-45)" font-size="4.1" text-anchor="end" fill="#1e1e1e" stroke="#2a2a2a" stroke-width="0.16">CMP</text>
<rect x="229.23" y="321.25" width="5.1" height="22.75" fill="#7f9bc6" stroke="#3a3a3a" stroke-width="0.3"/>
<line x1="231.78" y1="321.25" x2="231.78" y2="320.54" stroke="#555" stroke-width="0.4"/>
<line x1="230.68" y1="320.54" x2="232.88" y2="320.54" stroke="#555" stroke-width="0.4"/>
<line x1="229.23" y1="321.75" x2="234.33" y2="321.75" stroke="#444" stroke-width="0.7" opacity="0.6"/>
<circle cx="231.78" cy="320.84" r="0.75" fill="none" stroke="#555" stroke-width="0.35"/>
<text transform="translate(232.68,349.8) rotate(-45)" font-size="4.1" text-anchor="end" fill="#1e1e1e" stroke="#2a2a2a" stroke-width="0.16">MEP</text>
<rect x="236.29" y="317.21" width="5.1" height="26.79" fill="#6d1a2a" stroke="#3a3a3a" stroke-width="0.3"/>
<line x1="238.84" y1="317.21" x2="238.84" y2="316.46" stroke="#555" stroke-width="0.4"/>
<line x1="237.74" y1="316.46" x2="239.94" y2="316.46" stroke="#555" stroke-width="0.4"/>
<line x1="236.29" y1="317.71" x2="241.39" y2="317.71" stroke="#444" stroke-width="0.7" opacity="0.6"/>
<circle cx="238.84" cy="316.76" r="0.75" fill="none" stroke="#555" stroke-width="0.35"/>
<text transform="translate(239.74,349.8) rotate(-45)" font-size="4.1" text-anchor="end" fill="#1e1e1e" stroke="#2a2a2a" stroke-width="0.16">LMPP</text>
<rect x="243.35" y="313.3" width="5.1" height="30.7" fill="#de563c" stroke="#3a3a3a" stroke-width="0.3"/>
<line x1="245.9" y1="313.3" x2="245.9" y2="299.8" stroke="#555" stroke-width="0.4"/>
<line x1="244.8" y1="299.8" x2="247" y2="299.8" stroke="#555" stroke-width="0.4"/>
<line x1="243.35" y1="313.8" x2="248.45" y2="313.8" stroke="#444" stroke-width="0.7" opacity="0.6"/>
<circle cx="245.9" cy="300.1" r="0.75" fill="none" stroke="#555" stroke-width="0.35"/>
<text transform="translate(246.8,349.8) rotate(-45)" font-size="4.1" text-anchor="end" fill="#1e1e1e" stroke="#2a2a2a" stroke-width="0.16">MLP</text>
<rect x="250.41" y="308.81" width="5.1" height="35.19" fill="#f4c534" stroke="#3a3a3a" stroke-width="0.3"/>
<line x1="252.96" y1="308.81" x2="252.96" y2="307.96" stroke="#555" stroke-width="0.4"/>
<line x1="251.86" y1="307.96" x2="254.06" y2="307.96" stroke="#555" stroke-width="0.4"/>
<line x1="250.41" y1="309.31" x2="255.51" y2="309.31" stroke="#444" stroke-width="0.7" opacity="0.6"/>
<circle cx="252.96" cy="308.26" r="0.75" fill="none" stroke="#555" stroke-width="0.35"/>
<text transform="translate(253.86,349.8) rotate(-45)" font-size="4.1" text-anchor="end" fill="#1e1e1e" stroke="#2a2a2a" stroke-width="0.16">B/NK</text>
<rect x="257.47" y="318.7" width="5.1" height="25.3" fill="#9fc48e" stroke="#3a3a3a" stroke-width="0.3"/>
<line x1="260.02" y1="318.7" x2="260.02" y2="318.16" stroke="#555" stroke-width="0.4"/>
<line x1="258.92" y1="318.16" x2="261.12" y2="318.16" stroke="#555" stroke-width="0.4"/>
<line x1="257.47" y1="319.2" x2="262.57" y2="319.2" stroke="#444" stroke-width="0.7" opacity="0.6"/>
<circle cx="260.02" cy="318.46" r="0.75" fill="none" stroke="#555" stroke-width="0.35"/>
<text transform="translate(260.92,349.8) rotate(-45)" font-size="4.1" text-anchor="end" fill="#1e1e1e" stroke="#2a2a2a" stroke-width="0.16">GMP</text>
<line x1="253" y1="304.75" x2="259" y2="304.75" stroke="#a0a0a0" stroke-width="0.4"/>
<text x="256.7" y="306.55" font-size="5" font-weight="bold" letter-spacing="0.25" text-anchor="middle" fill="#2a2a2a">*</text>
<rect x="271.4" y="15.4" width="51.8" height="65.3" fill="none" stroke="#9a9a9a" stroke-width="0.45"/>
<path d="M283.49,28.5 L283.49,28.45 L284.06,28.4 L284.64,28.31 L285.21,28.16 L285.79,27.91 L286.36,27.52 L286.94,26.97 L287.52,26.21 L288.09,25.27 L288.67,24.19 L289.24,23.12 L289.82,22.29 L290.39,22.26 L290.97,22.77 L291.54,23.37 L292.12,23.88 L292.7,24.25 L293.27,24.56 L293.85,25.1 L294.42,25.82 L295,26.53 L295.57,27.13 L296.15,27.6 L296.72,27.94 L297.3,28.17 L297.88,28.32 L298.45,28.4 L299.03,28.45 L299.03,28.5 Z" fill="#2a8fa8"/>
<path d="M280.03,35.02 L280.03,34.95 L280.61,34.89 L281.18,34.79 L281.76,34.63 L282.34,34.38 L282.91,34.03 L283.49,33.53 L284.06,32.89 L284.64,32.14 L285.21,31.33 L285.79,30.58 L286.36,30.09 L286.94,30.3 L287.52,30.96 L288.09,31.76 L288.67,32.55 L289.24,33.25 L289.82,33.81 L290.39,34.23 L290.97,34.53 L291.54,34.72 L292.12,34.84 L292.7,34.89 L293.27,34.84 L293.85,34.63 L294.42,34.24 L295,33.94 L295.57,34.25 L296.15,34.65 L296.72,34.89 L297.3,34.99 L297.3,35.02 Z" fill="#ea7a7a"/>
<path d="M278.31,41.55 L278.31,41.47 L278.88,41.42 L279.46,41.32 L280.03,41.18 L280.61,40.96 L281.18,40.65 L281.76,40.23 L282.34,39.69 L282.91,39.05 L283.49,38.36 L284.06,37.68 L284.64,37.16 L285.21,37.08 L285.79,37.53 L286.36,38.18 L286.94,38.88 L287.52,39.54 L288.09,40.1 L288.67,40.55 L289.24,40.89 L289.82,41.13 L290.39,41.29 L290.97,41.4 L291.54,41.46 L292.12,41.5 L292.12,41.55 Z" fill="#4e3a5e"/>
<path d="M278.88,48.08 L278.88,48.03 L279.46,47.97 L280.03,47.83 L280.61,47.55 L281.18,47.03 L281.76,46.18 L282.34,44.93 L282.91,43.36 L283.49,41.82 L284.06,41.08 L284.64,42.12 L285.21,43.71 L285.79,45.23 L286.36,46.4 L286.94,47.17 L287.52,47.63 L288.09,47.87 L288.67,47.99 L289.24,48.04 L289.24,48.08 Z" fill="#7f90ac"/>
<path d="M281.76,54.6 L281.76,54.55 L282.34,54.51 L282.91,54.44 L283.49,54.32 L284.06,54.14 L284.64,53.88 L285.21,53.5 L285.79,53 L286.36,52.35 L286.94,51.59 L287.52,50.76 L288.09,49.96 L288.67,49.35 L289.24,49.29 L289.82,49.84 L290.39,50.62 L290.97,51.46 L291.54,52.24 L292.12,52.9 L292.7,53.43 L293.27,53.83 L293.85,54.11 L294.42,54.3 L295,54.42 L295.57,54.5 L296.15,54.54 L296.15,54.6 Z" fill="#5e1222"/>
<path d="M280.03,61.12 L280.03,61.05 L280.61,60.99 L281.18,60.89 L281.76,60.74 L282.34,60.5 L282.91,60.15 L283.49,59.67 L284.06,59.04 L284.64,58.27 L285.21,57.38 L285.79,56.47 L286.36,55.66 L286.94,55.2 L287.52,55.53 L288.09,56.28 L288.67,57.19 L289.24,58.09 L289.82,58.89 L290.39,59.55 L290.97,60.06 L291.54,60.44 L292.12,60.69 L292.7,60.86 L293.27,60.97 L293.85,61.04 L294.42,61.08 L294.42,61.12 Z" fill="#c9502f"/>
<path d="M282.91,67.65 L282.91,67.6 L283.49,67.55 L284.06,67.47 L284.64,67.33 L285.21,67.12 L285.79,66.8 L286.36,66.34 L286.94,65.74 L287.52,64.97 L288.09,64.1 L288.67,63.19 L289.24,62.39 L289.82,62 L290.39,62.3 L290.97,62.8 L291.54,63.31 L292.12,63.8 L292.7,64.42 L293.27,65.26 L293.85,66.02 L294.42,66.63 L295,67.06 L295.57,67.33 L296.15,67.48 L296.72,67.57 L297.3,67.61 L297.3,67.65 Z" fill="#f0c238"/>
<path d="M277.73,74.18 L277.73,74.13 L278.31,74.08 L278.88,73.99 L279.46,73.82 L280.03,73.54 L280.61,73.1 L281.18,72.44 L281.76,71.55 L282.34,70.45 L282.91,69.25 L283.49,68.19 L284.06,67.71 L284.64,68.39 L285.21,69.51 L285.79,70.71 L286.36,71.77 L286.94,72.61 L287.52,73.21 L288.09,73.61 L288.67,73.86 L289.24,74.01 L289.82,74.09 L290.39,74.14 L290.39,74.18 Z" fill="#a6c29a"/>
<path d="M280.61,80.7 L280.61,80.64 L281.18,80.56 L281.76,80.41 L282.34,80.13 L282.91,79.66 L283.49,78.95 L284.06,77.98 L284.64,76.84 L285.21,75.78 L285.79,75.33 L286.36,76.07 L286.94,77.19 L287.52,78.3 L288.09,79.19 L288.67,79.83 L289.24,80.23 L289.82,80.46 L290.39,80.59 L290.97,80.65 L290.97,80.7 Z" fill="#d2d2d2"/>
<line x1="271.4" y1="28.5" x2="323.2" y2="28.5" stroke="#a4a4a4" stroke-width="0.45"/>
<line x1="271.4" y1="35.02" x2="323.2" y2="35.02" stroke="#a4a4a4" stroke-width="0.45"/>
<line x1="271.4" y1="41.55" x2="323.2" y2="41.55" stroke="#a4a4a4" stroke-width="0.45"/>
<line x1="271.4" y1="48.08" x2="323.2" y2="48.08" stroke="#a4a4a4" stroke-width="0.45"/>
<line x1="271.4" y1="54.6" x2="323.2" y2="54.6" stroke="#a4a4a4" stroke-width="0.45"/>
<line x1="271.4" y1="61.12" x2="323.2" y2="61.12" stroke="#a4a4a4" stroke-width="0.45"/>
<line x1="271.4" y1="67.65" x2="323.2" y2="67.65" stroke="#a4a4a4" stroke-width="0.45"/>
<line x1="271.4" y1="74.18" x2="323.2" y2="74.18" stroke="#a4a4a4" stroke-width="0.45"/>
<line x1="273.9" y1="81.6" x2="321.2" y2="81.6" stroke="#cfcfcf" stroke-width="0.55"/>
<line x1="275.4" y1="81.2" x2="275.4" y2="82.2" stroke="#b0b0b0" stroke-width="0.4"/>
<line x1="286.85" y1="81.2" x2="286.85" y2="82.2" stroke="#b0b0b0" stroke-width="0.4"/>
<line x1="298.3" y1="81.2" x2="298.3" y2="82.2" stroke="#b0b0b0" stroke-width="0.4"/>
<line x1="309.75" y1="81.2" x2="309.75" y2="82.2" stroke="#b0b0b0" stroke-width="0.4"/>
<line x1="321.2" y1="81.2" x2="321.2" y2="82.2" stroke="#b0b0b0" stroke-width="0.4"/>
<circle cx="282.5" cy="81.6" r="0.9" fill="#111"/>
<rect x="2.4" y="106" width="51.1" height="66.3" fill="none" stroke="#9a9a9a" stroke-width="0.45"/>
<path d="M14.32,114.2 L14.32,114.14 L14.89,114.09 L15.46,114.02 L16.03,113.91 L16.59,113.73 L17.16,113.49 L17.73,113.14 L18.3,112.66 L18.87,112.04 L19.43,111.26 L20,110.35 L20.57,109.33 L21.14,108.29 L21.7,107.35 L22.27,106.67 L22.84,106.67 L23.41,107.21 L23.98,107.87 L24.54,108.49 L25.11,109.07 L25.68,109.85 L26.25,110.96 L26.81,111.99 L27.38,112.78 L27.95,113.33 L28.52,113.68 L29.09,113.9 L29.65,114.02 L30.22,114.1 L30.79,114.14 L31.36,114.17 L31.92,114.18 L32.49,114.19 L33.06,114.19 L33.63,114.2 L34.2,114.2 L34.76,114.2 L35.33,114.2 L35.9,114.2 L36.47,114.2 L37.03,114.19 L37.6,114.16 L38.17,114.08 L38.74,113.89 L39.31,113.58 L39.87,113.23 L40.44,113.19 L41.01,113.53 L41.58,113.86 L42.14,114.06 L42.71,114.15 L42.71,114.2 Z" fill="#2a8fa8"/>
<path d="M10.35,121.46 L10.35,121.41 L10.92,121.37 L11.48,121.29 L12.05,121.14 L12.62,120.91 L13.19,120.55 L13.76,120.02 L14.32,119.29 L14.89,118.36 L15.46,117.28 L16.03,116.17 L16.59,115.24 L17.16,114.93 L17.73,115.5 L18.3,116.28 L18.87,117 L19.43,117.56 L20,118.11 L20.57,119 L21.14,119.86 L21.7,120.53 L22.27,120.97 L22.84,121.22 L23.41,121.35 L23.98,121.41 L23.98,121.46 Z" fill="#ea7a7a"/>
<path d="M12.05,128.72 L12.05,128.67 L12.62,128.6 L13.19,128.45 L13.76,128.14 L14.32,127.61 L14.89,126.74 L15.46,125.53 L16.03,124.07 L16.59,122.73 L17.16,122.36 L17.73,123.45 L18.3,124.92 L18.87,126.26 L19.43,127.28 L20,127.95 L20.57,128.34 L21.14,128.55 L21.7,128.65 L21.7,128.72 Z" fill="#4e3a5e"/>
<path d="M9.78,135.99 L9.78,135.94 L10.35,135.89 L10.92,135.79 L11.48,135.6 L12.05,135.27 L12.62,134.74 L13.19,133.96 L13.76,132.89 L14.32,131.6 L14.89,130.27 L15.46,129.25 L16.03,129.36 L16.59,130.46 L17.16,131.8 L17.73,133.07 L18.3,134.1 L18.87,134.84 L19.43,135.33 L20,135.64 L20.57,135.81 L21.14,135.9 L21.7,135.95 L21.7,135.99 Z" fill="#7f90ac"/>
<path d="M12.62,143.25 L12.62,143.2 L13.19,143.14 L13.76,143.01 L14.32,142.77 L14.89,142.34 L15.46,141.66 L16.03,140.68 L16.59,139.4 L17.16,137.98 L17.73,136.78 L18.3,136.6 L18.87,137.34 L19.43,138.09 L20,138.45 L20.57,138.27 L21.14,137.69 L21.7,137.08 L22.27,137.28 L22.84,138.41 L23.41,139.72 L23.98,140.89 L24.54,141.8 L25.11,142.42 L25.68,142.81 L26.25,143.03 L26.81,143.15 L27.38,143.2 L27.38,143.25 Z" fill="#5e1222"/>
<path d="M13.19,150.51 L13.19,150.44 L13.76,150.38 L14.32,150.3 L14.89,150.16 L15.46,149.95 L16.03,149.65 L16.59,149.24 L17.16,148.71 L17.73,148.06 L18.3,147.34 L18.87,146.6 L19.43,145.98 L20,145.65 L20.57,145.98 L21.14,146.61 L21.7,147.34 L22.27,148.07 L22.84,148.71 L23.41,149.24 L23.98,149.65 L24.54,149.95 L25.11,150.16 L25.68,150.3 L26.25,150.38 L26.81,150.44 L27.38,150.47 L27.95,150.49 L28.52,150.5 L29.09,150.51 L29.65,150.51 L30.22,150.51 L30.79,150.51 L31.36,150.51 L31.92,150.51 L32.49,150.51 L33.06,150.51 L33.63,150.51 L34.2,150.51 L34.76,150.51 L35.33,150.51 L35.9,150.51 L36.47,150.51 L37.03,150.51 L37.6,150.51 L38.17,150.51 L38.74,150.49 L39.31,150.45 L39.87,150.32 L40.44,150.05 L41.01,149.62 L41.58,149.19 L42.14,149.26 L42.71,149.73 L43.28,150.13 L43.85,150.36 L44.42,150.46 L44.42,150.51 Z" fill="#c9502f"/>
<path d="M12.62,157.78 L12.62,157.7 L13.19,157.65 L13.76,157.58 L14.32,157.47 L14.89,157.32 L15.46,157.1 L16.03,156.81 L16.59,156.44 L17.16,155.99 L17.73,155.47 L18.3,154.91 L18.87,154.36 L19.43,153.9 L20,153.66 L20.57,153.87 L21.14,154.28 L21.7,154.74 L22.27,155.13 L22.84,155.4 L23.41,155.56 L23.98,155.73 L24.54,156.19 L25.11,156.7 L25.68,157.11 L26.25,157.4 L26.81,157.57 L27.38,157.67 L27.95,157.72 L27.95,157.78 Z" fill="#f0c238"/>
<path d="M8.65,165.04 L8.65,164.99 L9.21,164.94 L9.78,164.85 L10.35,164.69 L10.92,164.42 L11.48,163.98 L12.05,163.32 L12.62,162.42 L13.19,161.27 L13.76,159.98 L14.32,158.75 L14.89,157.95 L15.46,158.37 L16.03,159.49 L16.59,160.79 L17.16,162 L17.73,163.01 L18.3,163.75 L18.87,164.27 L19.43,164.6 L20,164.8 L20.57,164.92 L21.14,164.98 L21.14,165.04 Z" fill="#a6c29a"/>
<path d="M10.92,172.3 L10.92,172.24 L11.48,172.17 L12.05,172.01 L12.62,171.71 L13.19,171.19 L13.76,170.38 L14.32,169.29 L14.89,168.07 L15.46,167.08 L16.03,167.19 L16.59,168.25 L17.16,169.47 L17.73,170.52 L18.3,171.28 L18.87,171.77 L19.43,172.04 L20,172.18 L20.57,172.25 L20.57,172.3 Z" fill="#d2d2d2"/>
<line x1="2.4" y1="114.2" x2="53.5" y2="114.2" stroke="#a4a4a4" stroke-width="0.45"/>
<line x1="2.4" y1="121.46" x2="53.5" y2="121.46" stroke="#a4a4a4" stroke-width="0.45"/>
<line x1="2.4" y1="128.72" x2="53.5" y2="128.72" stroke="#a4a4a4" stroke-width="0.45"/>
<line x1="2.4" y1="135.99" x2="53.5" y2="135.99" stroke="#a4a4a4" stroke-width="0.45"/>
<line x1="2.4" y1="143.25" x2="53.5" y2="143.25" stroke="#a4a4a4" stroke-width="0.45"/>
<line x1="2.4" y1="150.51" x2="53.5" y2="150.51" stroke="#a4a4a4" stroke-width="0.45"/>
<line x1="2.4" y1="157.78" x2="53.5" y2="157.78" stroke="#a4a4a4" stroke-width="0.45"/>
<line x1="2.4" y1="165.04" x2="53.5" y2="165.04" stroke="#a4a4a4" stroke-width="0.45"/>
<line x1="4.9" y1="173.2" x2="51.5" y2="173.2" stroke="#cfcfcf" stroke-width="0.55"/>
<line x1="6.4" y1="172.8" x2="6.4" y2="173.8" stroke="#b0b0b0" stroke-width="0.4"/>
<line x1="17.68" y1="172.8" x2="17.68" y2="173.8" stroke="#b0b0b0" stroke-width="0.4"/>
<line x1="28.95" y1="172.8" x2="28.95" y2="173.8" stroke="#b0b0b0" stroke-width="0.4"/>
<line x1="40.23" y1="172.8" x2="40.23" y2="173.8" stroke="#b0b0b0" stroke-width="0.4"/>
<line x1="51.5" y1="172.8" x2="51.5" y2="173.8" stroke="#b0b0b0" stroke-width="0.4"/>
<circle cx="13.7" cy="173.2" r="0.9" fill="#111"/>
<rect x="137.4" y="107.3" width="51.2" height="65" fill="none" stroke="#9a9a9a" stroke-width="0.45"/>
<path d="M153.9,114.8 L153.9,114.76 L154.47,114.69 L155.04,114.54 L155.6,114.22 L156.17,113.61 L156.74,112.6 L157.31,111.14 L157.88,109.41 L158.45,107.95 L159.02,108.08 L159.59,109.61 L160.16,111.33 L160.72,112.74 L161.29,113.7 L161.86,114.27 L162.43,114.56 L163,114.7 L163.57,114.76 L163.57,114.8 Z" fill="#2a8fa8"/>
<path d="M147.64,121.99 L147.64,121.91 L148.21,121.84 L148.78,121.71 L149.35,121.49 L149.92,121.15 L150.48,120.65 L151.05,119.98 L151.62,119.19 L152.19,118.38 L152.76,117.77 L153.33,117.84 L153.9,118.5 L154.47,119.32 L155.04,120.1 L155.6,120.74 L156.17,121.21 L156.74,121.54 L157.31,121.74 L157.88,121.86 L158.45,121.92 L158.45,121.99 Z" fill="#ea7a7a"/>
<path d="M145.93,129.18 L145.93,129.12 L146.5,129.06 L147.07,128.93 L147.64,128.68 L148.21,128.27 L148.78,127.65 L149.35,126.84 L149.92,125.96 L150.48,125.27 L151.05,125.31 L151.62,125.48 L152.19,125.45 L152.76,125.2 L153.33,124.96 L153.9,125.41 L154.47,126.33 L155.04,127.25 L155.6,127.99 L156.17,128.51 L156.74,128.83 L157.31,129.01 L157.88,129.1 L157.88,129.18 Z" fill="#4e3a5e"/>
<path d="M146.5,136.36 L146.5,136.29 L147.07,136.15 L147.64,135.76 L148.21,134.93 L148.78,133.46 L149.35,131.49 L149.92,129.95 L150.48,130.92 L151.05,132.91 L151.62,134.56 L152.19,135.57 L152.76,136.06 L153.33,136.26 L153.9,136.33 L153.9,136.36 Z" fill="#7f90ac"/>
<path d="M149.92,143.55 L149.92,143.49 L150.48,143.39 L151.05,143.17 L151.62,142.73 L152.19,141.97 L152.76,140.83 L153.33,139.5 L153.9,138.53 L154.47,139.07 L155.04,140.36 L155.6,141.6 L156.17,142.5 L156.74,143.05 L157.31,143.33 L157.88,143.47 L158.45,143.52 L158.45,143.55 Z" fill="#5e1222"/>
<path d="M152.19,150.74 L152.19,150.67 L152.76,150.56 L153.33,150.34 L153.9,149.91 L154.47,149.22 L155.04,148.31 L155.6,147.4 L156.17,147.15 L156.74,147.93 L157.31,148.89 L157.88,149.68 L158.45,150.2 L159.02,150.49 L159.59,150.64 L160.16,150.7 L160.16,150.74 Z" fill="#c9502f"/>
<path d="M148.21,157.93 L148.21,157.87 L148.78,157.84 L149.35,157.8 L149.92,157.73 L150.48,157.64 L151.05,157.51 L151.62,157.36 L152.19,157.16 L152.76,156.94 L153.33,156.7 L153.9,156.47 L154.47,156.29 L155.04,156.2 L155.6,156.31 L156.17,156.5 L156.74,156.73 L157.31,156.97 L157.88,157.19 L158.45,157.38 L159.02,157.53 L159.59,157.65 L160.16,157.74 L160.72,157.8 L161.29,157.85 L161.29,157.93 Z" fill="#f0c238"/>
<path d="M147.07,165.11 L147.07,165.07 L147.64,165 L148.21,164.81 L148.78,164.41 L149.35,163.67 L149.92,162.55 L150.48,161.28 L151.05,160.59 L151.62,161.5 L152.19,162.78 L152.76,163.84 L153.33,164.51 L153.9,164.86 L154.47,165.02 L155.04,165.08 L155.04,165.11 Z" fill="#a6c29a"/>
<path d="M148.78,172.3 L148.78,172.24 L149.35,172.07 L149.92,171.6 L150.48,170.59 L151.05,169.16 L151.62,168.51 L152.19,169.79 L152.76,171.1 L153.33,171.86 L153.9,172.17 L154.47,172.27 L154.47,172.3 Z" fill="#d2d2d2"/>
<line x1="137.4" y1="114.8" x2="188.6" y2="114.8" stroke="#a4a4a4" stroke-width="0.45"/>
<line x1="137.4" y1="121.99" x2="188.6" y2="121.99" stroke="#a4a4a4" stroke-width="0.45"/>
<line x1="137.4" y1="129.18" x2="188.6" y2="129.18" stroke="#a4a4a4" stroke-width="0.45"/>
<line x1="137.4" y1="136.36" x2="188.6" y2="136.36" stroke="#a4a4a4" stroke-width="0.45"/>
<line x1="137.4" y1="143.55" x2="188.6" y2="143.55" stroke="#a4a4a4" stroke-width="0.45"/>
<line x1="137.4" y1="150.74" x2="188.6" y2="150.74" stroke="#a4a4a4" stroke-width="0.45"/>
<line x1="137.4" y1="157.93" x2="188.6" y2="157.93" stroke="#a4a4a4" stroke-width="0.45"/>
<line x1="137.4" y1="165.11" x2="188.6" y2="165.11" stroke="#a4a4a4" stroke-width="0.45"/>
<line x1="139.9" y1="173.2" x2="186.6" y2="173.2" stroke="#cfcfcf" stroke-width="0.55"/>
<line x1="141.4" y1="172.8" x2="141.4" y2="173.8" stroke="#b0b0b0" stroke-width="0.4"/>
<line x1="152.7" y1="172.8" x2="152.7" y2="173.8" stroke="#b0b0b0" stroke-width="0.4"/>
<line x1="164" y1="172.8" x2="164" y2="173.8" stroke="#b0b0b0" stroke-width="0.4"/>
<line x1="175.3" y1="172.8" x2="175.3" y2="173.8" stroke="#b0b0b0" stroke-width="0.4"/>
<line x1="186.6" y1="172.8" x2="186.6" y2="173.8" stroke="#b0b0b0" stroke-width="0.4"/>
<circle cx="149.5" cy="173.2" r="0.9" fill="#111"/>
<rect x="271.1" y="106.2" width="49.5" height="65.9" fill="none" stroke="#9a9a9a" stroke-width="0.45"/>
<path d="M284.85,114.6 L284.85,114.53 L285.4,114.46 L285.95,114.33 L286.5,114.1 L287.05,113.71 L287.6,113.1 L288.15,112.22 L288.7,111.05 L289.25,109.65 L289.8,108.21 L290.35,107.06 L290.9,106.99 L291.45,107.63 L292,108.46 L292.55,109.26 L293.1,110.08 L293.65,111.04 L294.2,111.92 L294.75,112.67 L295.3,113.26 L295.85,113.7 L296.4,114.02 L296.95,114.24 L297.5,114.39 L298.05,114.48 L298.6,114.53 L298.6,114.6 Z" fill="#2a8fa8"/>
<path d="M279.9,121.79 L279.9,121.73 L280.45,121.69 L281,121.63 L281.55,121.53 L282.1,121.39 L282.65,121.18 L283.2,120.89 L283.75,120.51 L284.3,120 L284.85,119.38 L285.4,118.63 L285.95,117.8 L286.5,116.94 L287.05,116.14 L287.6,115.52 L288.15,115.35 L288.7,115.82 L289.25,116.56 L289.8,117.41 L290.35,118.27 L290.9,119.05 L291.45,119.73 L292,120.29 L292.55,120.73 L293.1,121.06 L293.65,121.3 L294.2,121.47 L294.75,121.59 L295.3,121.66 L295.85,121.71 L295.85,121.79 Z" fill="#ea7a7a"/>
<path d="M279.35,128.97 L279.35,128.92 L279.9,128.86 L280.45,128.74 L281,128.54 L281.55,128.21 L282.1,127.7 L282.65,126.96 L283.2,125.99 L283.75,124.87 L284.3,123.76 L284.85,123 L285.4,123.27 L285.95,124.25 L286.5,125.39 L287.05,126.46 L287.6,127.32 L288.15,127.96 L288.7,128.38 L289.25,128.65 L289.8,128.8 L290.35,128.89 L290.9,128.93 L290.9,128.97 Z" fill="#4e3a5e"/>
<path d="M277.7,136.16 L277.7,136.09 L278.25,136.03 L278.8,135.92 L279.35,135.73 L279.9,135.45 L280.45,135.03 L281,134.43 L281.55,133.64 L282.1,132.68 L282.65,131.61 L283.2,130.58 L283.75,129.82 L284.3,129.87 L284.85,130.67 L285.4,131.71 L285.95,132.77 L286.5,133.72 L287.05,134.49 L287.6,135.07 L288.15,135.48 L288.7,135.75 L289.25,135.93 L289.8,136.03 L290.35,136.09 L290.35,136.16 Z" fill="#7f90ac"/>
<path d="M279.9,143.35 L279.9,143.29 L280.45,143.25 L281,143.18 L281.55,143.07 L282.1,142.91 L282.65,142.66 L283.2,142.33 L283.75,141.87 L284.3,141.3 L284.85,140.62 L285.4,139.86 L285.95,139.09 L286.5,138.43 L287.05,138.07 L287.6,138.29 L288.15,138.73 L288.7,139.19 L289.25,139.58 L289.8,139.86 L290.35,140.05 L290.9,140.25 L291.45,140.69 L292,141.24 L292.55,141.78 L293.1,142.24 L293.65,142.61 L294.2,142.88 L294.75,143.06 L295.3,143.18 L295.85,143.26 L296.4,143.3 L296.4,143.35 Z" fill="#5e1222"/>
<path d="M279.9,150.54 L279.9,150.48 L280.45,150.45 L281,150.4 L281.55,150.33 L282.1,150.24 L282.65,150.11 L283.2,149.94 L283.75,149.73 L284.3,149.46 L284.85,149.15 L285.4,148.79 L285.95,148.4 L286.5,148.01 L287.05,147.65 L287.6,147.39 L288.15,147.32 L288.7,147.52 L289.25,147.84 L289.8,148.22 L290.35,148.61 L290.9,148.99 L291.45,149.32 L292,149.61 L292.55,149.85 L293.1,150.04 L293.65,150.18 L294.2,150.29 L294.75,150.37 L295.3,150.43 L295.85,150.47 L295.85,150.54 Z" fill="#c9502f"/>
<path d="M282.1,157.72 L282.1,157.66 L282.65,157.6 L283.2,157.49 L283.75,157.33 L284.3,157.08 L284.85,156.71 L285.4,156.22 L285.95,155.61 L286.5,154.93 L287.05,154.26 L287.6,153.81 L288.15,153.76 L288.7,153.82 L289.25,153.86 L289.8,153.83 L290.35,153.77 L290.9,153.78 L291.45,154.13 L292,154.66 L292.55,155.23 L293.1,155.78 L293.65,156.27 L294.2,156.68 L294.75,157 L295.3,157.24 L295.85,157.41 L296.4,157.53 L296.95,157.6 L297.5,157.65 L297.5,157.72 Z" fill="#f0c238"/>
<path d="M279.35,164.91 L279.35,164.87 L279.9,164.82 L280.45,164.72 L281,164.56 L281.55,164.29 L282.1,163.86 L282.65,163.26 L283.2,162.46 L283.75,161.54 L284.3,160.63 L284.85,160 L285.4,160.23 L285.95,161.03 L286.5,161.97 L287.05,162.84 L287.6,163.56 L288.15,164.08 L288.7,164.43 L289.25,164.64 L289.8,164.77 L290.35,164.84 L290.35,164.91 Z" fill="#a6c29a"/>
<path d="M282.1,172.1 L282.1,172.04 L282.65,171.9 L283.2,171.55 L283.75,170.88 L284.3,169.87 L284.85,168.95 L285.4,169.31 L285.95,170.36 L286.5,171.23 L287.05,171.74 L287.6,171.98 L288.15,172.06 L288.15,172.1 Z" fill="#d2d2d2"/>
<line x1="271.1" y1="114.6" x2="320.6" y2="114.6" stroke="#a4a4a4" stroke-width="0.45"/>
<line x1="271.1" y1="121.79" x2="320.6" y2="121.79" stroke="#a4a4a4" stroke-width="0.45"/>
<line x1="271.1" y1="128.97" x2="320.6" y2="128.97" stroke="#a4a4a4" stroke-width="0.45"/>
<line x1="271.1" y1="136.16" x2="320.6" y2="136.16" stroke="#a4a4a4" stroke-width="0.45"/>
<line x1="271.1" y1="143.35" x2="320.6" y2="143.35" stroke="#a4a4a4" stroke-width="0.45"/>
<line x1="271.1" y1="150.54" x2="320.6" y2="150.54" stroke="#a4a4a4" stroke-width="0.45"/>
<line x1="271.1" y1="157.72" x2="320.6" y2="157.72" stroke="#a4a4a4" stroke-width="0.45"/>
<line x1="271.1" y1="164.91" x2="320.6" y2="164.91" stroke="#a4a4a4" stroke-width="0.45"/>
<line x1="273.6" y1="173" x2="318.6" y2="173" stroke="#cfcfcf" stroke-width="0.55"/>
<line x1="275.1" y1="172.6" x2="275.1" y2="173.6" stroke="#b0b0b0" stroke-width="0.4"/>
<line x1="285.98" y1="172.6" x2="285.98" y2="173.6" stroke="#b0b0b0" stroke-width="0.4"/>
<line x1="296.85" y1="172.6" x2="296.85" y2="173.6" stroke="#b0b0b0" stroke-width="0.4"/>
<line x1="307.73" y1="172.6" x2="307.73" y2="173.6" stroke="#b0b0b0" stroke-width="0.4"/>
<line x1="318.6" y1="172.6" x2="318.6" y2="173.6" stroke="#b0b0b0" stroke-width="0.4"/>
<circle cx="283" cy="173" r="0.9" fill="#111"/>
<rect x="2.4" y="196.5" width="51" height="65.1" fill="none" stroke="#9a9a9a" stroke-width="0.45"/>
<path d="M14.3,203.7 L14.3,203.66 L14.87,203.62 L15.43,203.53 L16,203.38 L16.57,203.11 L17.13,202.7 L17.7,202.11 L18.27,201.33 L18.83,200.41 L19.4,199.5 L19.97,198.86 L20.53,199.01 L21.1,199.43 L21.67,199.73 L22.23,199.76 L22.8,199.5 L23.37,199.08 L23.93,198.83 L24.5,199.35 L25.07,200.24 L25.63,201.17 L26.2,201.99 L26.77,202.61 L27.33,203.05 L27.9,203.34 L28.47,203.51 L29.03,203.59 L29.6,203.61 L30.17,203.56 L30.73,203.41 L31.3,203.18 L31.87,202.96 L32.43,203.06 L33,203.31 L33.57,203.52 L34.13,203.63 L34.13,203.7 Z" fill="#2a8fa8"/>
<path d="M12.6,210.94 L12.6,210.88 L13.17,210.82 L13.73,210.72 L14.3,210.56 L14.87,210.29 L15.43,209.89 L16,209.32 L16.57,208.56 L17.13,207.63 L17.7,206.6 L18.27,205.62 L18.83,204.96 L19.4,205.17 L19.97,206 L20.53,207.02 L21.1,208.03 L21.67,208.89 L22.23,209.58 L22.8,210.07 L23.37,210.41 L23.93,210.63 L24.5,210.77 L25.07,210.85 L25.63,210.89 L25.63,210.94 Z" fill="#ea7a7a"/>
<path d="M9.77,218.18 L9.77,218.13 L10.33,218.07 L10.9,217.96 L11.47,217.75 L12.03,217.38 L12.6,216.81 L13.17,216 L13.73,214.98 L14.3,213.9 L14.87,213.04 L15.43,213.06 L16,213.54 L16.57,213.91 L17.13,213.94 L17.7,213.58 L18.27,213 L18.83,212.55 L19.4,212.94 L19.97,213.92 L20.53,215.01 L21.1,215.99 L21.67,216.77 L22.23,217.33 L22.8,217.7 L23.37,217.92 L23.93,218.05 L24.5,218.11 L24.5,218.18 Z" fill="#4e3a5e"/>
<path d="M9.2,225.41 L9.2,225.37 L9.77,225.31 L10.33,225.21 L10.9,225.03 L11.47,224.71 L12.03,224.21 L12.6,223.47 L13.17,222.5 L13.73,221.34 L14.3,220.2 L14.87,219.42 L15.43,219.76 L16,220.79 L16.57,221.97 L17.13,223.04 L17.7,223.89 L18.27,224.5 L18.83,224.9 L19.4,225.14 L19.97,225.27 L20.53,225.35 L20.53,225.41 Z" fill="#7f90ac"/>
<path d="M11.47,232.65 L11.47,232.6 L12.03,232.57 L12.6,232.5 L13.17,232.4 L13.73,232.23 L14.3,231.98 L14.87,231.62 L15.43,231.12 L16,230.45 L16.57,229.63 L17.13,228.67 L17.7,227.64 L18.27,226.67 L18.83,225.95 L19.4,225.92 L19.97,226.36 L20.53,226.9 L21.1,227.43 L21.67,227.94 L22.23,228.65 L22.8,229.59 L23.37,230.49 L23.93,231.22 L24.5,231.76 L25.07,232.13 L25.63,232.36 L26.2,232.5 L26.77,232.57 L26.77,232.65 Z" fill="#5e1222"/>
<path d="M13.17,239.89 L13.17,239.85 L13.73,239.76 L14.3,239.54 L14.87,239.16 L15.43,238.81 L16,239.05 L16.57,239.43 L17.13,239.66 L17.7,239.71 L18.27,239.63 L18.83,239.46 L19.4,239.18 L19.97,238.8 L20.53,238.32 L21.1,237.82 L21.67,237.41 L22.23,237.36 L22.8,237.73 L23.37,238.23 L23.93,238.72 L24.5,239.12 L25.07,239.42 L25.63,239.62 L26.2,239.74 L26.77,239.81 L26.77,239.89 Z" fill="#c9502f"/>
<path d="M14.87,247.12 L14.87,247.06 L15.43,247.01 L16,246.92 L16.57,246.78 L17.13,246.57 L17.7,246.29 L18.27,245.93 L18.83,245.54 L19.4,245.18 L19.97,244.97 L20.53,245.14 L21.1,245.49 L21.67,245.89 L22.23,246.25 L22.8,246.54 L23.37,246.76 L23.93,246.91 L24.5,247 L25.07,247.06 L25.07,247.12 Z" fill="#f0c238"/>
<path d="M9.77,254.36 L9.77,254.29 L10.33,254.24 L10.9,254.17 L11.47,254.08 L12.03,253.94 L12.6,253.75 L13.17,253.5 L13.73,253.18 L14.3,252.78 L14.87,252.31 L15.43,251.76 L16,251.17 L16.57,250.59 L17.13,250.06 L17.7,249.69 L18.27,249.68 L18.83,250.04 L19.4,250.56 L19.97,251.14 L20.53,251.73 L21.1,252.28 L21.67,252.76 L22.23,253.16 L22.8,253.49 L23.37,253.74 L23.93,253.93 L24.5,254.07 L25.07,254.17 L25.63,254.24 L26.2,254.28 L26.2,254.36 Z" fill="#a6c29a"/>
<path d="M10.9,261.6 L10.9,261.53 L11.47,261.42 L12.03,261.21 L12.6,260.8 L13.17,260.14 L13.73,259.2 L14.3,258.14 L14.87,257.34 L15.43,257.69 L16,258.7 L16.57,259.73 L17.13,260.53 L17.7,261.05 L18.27,261.34 L18.83,261.49 L19.4,261.56 L19.4,261.6 Z" fill="#d2d2d2"/>
<line x1="2.4" y1="203.7" x2="53.4" y2="203.7" stroke="#a4a4a4" stroke-width="0.45"/>
<line x1="2.4" y1="210.94" x2="53.4" y2="210.94" stroke="#a4a4a4" stroke-width="0.45"/>
<line x1="2.4" y1="218.18" x2="53.4" y2="218.18" stroke="#a4a4a4" stroke-width="0.45"/>
<line x1="2.4" y1="225.41" x2="53.4" y2="225.41" stroke="#a4a4a4" stroke-width="0.45"/>
<line x1="2.4" y1="232.65" x2="53.4" y2="232.65" stroke="#a4a4a4" stroke-width="0.45"/>
<line x1="2.4" y1="239.89" x2="53.4" y2="239.89" stroke="#a4a4a4" stroke-width="0.45"/>
<line x1="2.4" y1="247.12" x2="53.4" y2="247.12" stroke="#a4a4a4" stroke-width="0.45"/>
<line x1="2.4" y1="254.36" x2="53.4" y2="254.36" stroke="#a4a4a4" stroke-width="0.45"/>
<line x1="4.9" y1="262.5" x2="51.4" y2="262.5" stroke="#cfcfcf" stroke-width="0.55"/>
<line x1="6.4" y1="262.1" x2="6.4" y2="263.1" stroke="#b0b0b0" stroke-width="0.4"/>
<line x1="17.65" y1="262.1" x2="17.65" y2="263.1" stroke="#b0b0b0" stroke-width="0.4"/>
<line x1="28.9" y1="262.1" x2="28.9" y2="263.1" stroke="#b0b0b0" stroke-width="0.4"/>
<line x1="40.15" y1="262.1" x2="40.15" y2="263.1" stroke="#b0b0b0" stroke-width="0.4"/>
<line x1="51.4" y1="262.1" x2="51.4" y2="263.1" stroke="#b0b0b0" stroke-width="0.4"/>
<circle cx="13.7" cy="262.5" r="0.9" fill="#111"/>
<rect x="137.3" y="195.5" width="51.3" height="65.9" fill="none" stroke="#9a9a9a" stroke-width="0.45"/>
<path d="M155.54,203.7 L155.54,203.66 L156.11,203.62 L156.68,203.52 L157.25,203.36 L157.82,203.08 L158.39,202.69 L158.96,202.21 L159.53,201.74 L160.1,201.56 L160.67,201.89 L161.24,202.38 L161.81,202.84 L162.38,203.19 L162.95,203.42 L163.52,203.56 L164.09,203.62 L164.66,203.63 L165.23,203.59 L165.8,203.49 L166.37,203.29 L166.94,202.95 L167.51,202.4 L168.08,201.64 L168.65,200.73 L169.22,199.87 L169.79,199.54 L170.36,199.72 L170.93,199.89 L171.5,199.85 L172.07,199.54 L172.64,199.01 L173.21,198.41 L173.78,197.9 L174.35,197.77 L174.92,198.24 L175.49,198.96 L176.06,199.77 L176.63,200.58 L177.2,201.31 L177.77,201.94 L178.34,202.44 L178.91,202.83 L179.48,203.12 L180.05,203.32 L180.62,203.46 L181.19,203.55 L181.76,203.61 L182.33,203.65 L182.33,203.7 Z" fill="#2a8fa8"/>
<path d="M150.98,210.91 L150.98,210.87 L151.55,210.8 L152.12,210.64 L152.69,210.37 L153.26,209.99 L153.83,209.65 L154.4,209.77 L154.97,210.15 L155.54,210.5 L156.11,210.72 L156.68,210.83 L157.25,210.87 L157.82,210.85 L158.39,210.76 L158.96,210.6 L159.53,210.38 L160.1,210.27 L160.67,210.45 L161.24,210.65 L161.81,210.78 L162.38,210.81 L162.95,210.78 L163.52,210.69 L164.09,210.52 L164.66,210.26 L165.23,209.87 L165.8,209.34 L166.37,208.7 L166.94,208 L167.51,207.39 L168.08,207.12 L168.65,207.5 L169.22,208.11 L169.79,208.72 L170.36,209.22 L170.93,209.52 L171.5,209.61 L172.07,209.51 L172.64,209.27 L173.21,208.98 L173.78,208.74 L174.35,208.82 L174.92,209.15 L175.49,209.55 L176.06,209.93 L176.63,210.25 L177.2,210.49 L177.77,210.66 L178.34,210.77 L178.91,210.83 L178.91,210.91 Z" fill="#ea7a7a"/>
<path d="M148.7,218.12 L148.7,218.07 L149.27,218.01 L149.84,217.88 L150.41,217.64 L150.98,217.22 L151.55,216.55 L152.12,215.61 L152.69,214.42 L153.26,213.18 L153.83,212.26 L154.4,212.52 L154.97,213.57 L155.54,214.72 L156.11,215.63 L156.68,216.16 L157.25,216.24 L157.82,215.91 L158.39,215.24 L158.96,214.39 L159.53,213.59 L160.1,213.28 L160.67,213.89 L161.24,214.81 L161.81,215.74 L162.38,216.54 L162.95,217.14 L163.52,217.55 L164.09,217.81 L164.66,217.96 L165.23,218.05 L165.23,218.12 Z" fill="#4e3a5e"/>
<path d="M146.99,225.34 L146.99,225.28 L147.56,225.24 L148.13,225.18 L148.7,225.1 L149.27,224.97 L149.84,224.79 L150.41,224.54 L150.98,224.2 L151.55,223.76 L152.12,223.2 L152.69,222.53 L153.26,221.75 L153.83,220.89 L154.4,220.01 L154.97,219.2 L155.54,218.56 L156.11,218.34 L156.68,218.77 L157.25,219.5 L157.82,220.35 L158.39,221.23 L158.96,222.06 L159.53,222.8 L160.1,223.43 L160.67,223.94 L161.24,224.34 L161.81,224.65 L162.38,224.87 L162.95,225.03 L163.52,225.14 L164.09,225.21 L164.66,225.26 L164.66,225.34 Z" fill="#7f90ac"/>
<path d="M157.25,232.55 L157.25,232.48 L157.82,232.38 L158.39,232.17 L158.96,231.83 L159.53,231.45 L160.1,231.27 L160.67,231.58 L161.24,231.96 L161.81,232.25 L162.38,232.42 L162.95,232.49 L163.52,232.52 L164.09,232.52 L164.66,232.5 L165.23,232.47 L165.8,232.42 L166.37,232.34 L166.94,232.24 L167.51,232.09 L168.08,231.9 L168.65,231.65 L169.22,231.34 L169.79,230.99 L170.36,230.62 L170.93,230.26 L171.5,229.98 L172.07,229.85 L172.64,230.04 L173.21,230.35 L173.78,230.71 L174.35,231.08 L174.92,231.42 L175.49,231.71 L176.06,231.95 L176.63,232.13 L177.2,232.27 L177.77,232.37 L178.34,232.43 L178.91,232.48 L178.91,232.55 Z" fill="#5e1222"/>
<path d="M158.96,239.76 L158.96,239.71 L159.53,239.65 L160.1,239.54 L160.67,239.35 L161.24,239.07 L161.81,238.7 L162.38,238.29 L162.95,237.96 L163.52,237.98 L164.09,238.08 L164.66,238.11 L165.23,238.03 L165.8,237.94 L166.37,238.12 L166.94,238.52 L167.51,238.91 L168.08,239.24 L168.65,239.45 L169.22,239.58 L169.79,239.62 L170.36,239.6 L170.93,239.51 L171.5,239.35 L172.07,239.1 L172.64,238.76 L173.21,238.32 L173.78,237.83 L174.35,237.36 L174.92,237.07 L175.49,237.25 L176.06,237.69 L176.63,238.18 L177.2,238.64 L177.77,239.02 L178.34,239.29 L178.91,239.48 L179.48,239.6 L180.05,239.68 L180.62,239.72 L180.62,239.76 Z" fill="#c9502f"/>
<path d="M150.41,246.97 L150.41,246.93 L150.98,246.89 L151.55,246.84 L152.12,246.76 L152.69,246.64 L153.26,246.5 L153.83,246.34 L154.4,246.19 L154.97,246.11 L155.54,246.17 L156.11,246.3 L156.68,246.42 L157.25,246.49 L157.82,246.48 L158.39,246.34 L158.96,246.07 L159.53,245.69 L160.1,245.27 L160.67,245.02 L161.24,245.25 L161.81,245.68 L162.38,246.11 L162.95,246.45 L163.52,246.69 L164.09,246.83 L164.66,246.91 L164.66,246.97 Z" fill="#f0c238"/>
<path d="M150.98,254.19 L150.98,254.14 L151.55,254.08 L152.12,253.96 L152.69,253.78 L153.26,253.5 L153.83,253.15 L154.4,252.79 L154.97,252.57 L155.54,252.76 L156.11,253.11 L156.68,253.47 L157.25,253.75 L157.82,253.95 L158.39,254.07 L158.96,254.13 L159.53,254.16 L160.1,254.16 L160.67,254.15 L161.24,254.11 L161.81,254.03 L162.38,253.89 L162.95,253.66 L163.52,253.35 L164.09,252.98 L164.66,252.64 L165.23,252.58 L165.8,252.85 L166.37,253.16 L166.94,253.4 L167.51,253.49 L168.08,253.43 L168.65,253.21 L169.22,252.87 L169.79,252.45 L170.36,252.04 L170.93,251.77 L171.5,251.89 L172.07,252.19 L172.64,252.48 L173.21,252.65 L173.78,252.66 L174.35,252.49 L174.92,252.19 L175.49,251.88 L176.06,251.74 L176.63,252.05 L177.2,252.52 L177.77,252.98 L178.34,253.39 L178.91,253.69 L179.48,253.9 L180.05,254.03 L180.62,254.1 L181.19,254.15 L181.19,254.19 Z" fill="#a6c29a"/>
<path d="M148.7,261.4 L148.7,261.34 L149.27,261.25 L149.84,261.06 L150.41,260.72 L150.98,260.18 L151.55,259.44 L152.12,258.65 L152.69,258.16 L153.26,258.62 L153.83,259.41 L154.4,260.16 L154.97,260.71 L155.54,261.05 L156.11,261.24 L156.68,261.33 L156.68,261.4 Z" fill="#d2d2d2"/>
<line x1="137.3" y1="203.7" x2="188.6" y2="203.7" stroke="#a4a4a4" stroke-width="0.45"/>
<line x1="137.3" y1="210.91" x2="188.6" y2="210.91" stroke="#a4a4a4" stroke-width="0.45"/>
<line x1="137.3" y1="218.12" x2="188.6" y2="218.12" stroke="#a4a4a4" stroke-width="0.45"/>
<line x1="137.3" y1="225.34" x2="188.6" y2="225.34" stroke="#a4a4a4" stroke-width="0.45"/>
<line x1="137.3" y1="232.55" x2="188.6" y2="232.55" stroke="#a4a4a4" stroke-width="0.45"/>
<line x1="137.3" y1="239.76" x2="188.6" y2="239.76" stroke="#a4a4a4" stroke-width="0.45"/>
<line x1="137.3" y1="246.97" x2="188.6" y2="246.97" stroke="#a4a4a4" stroke-width="0.45"/>
<line x1="137.3" y1="254.19" x2="188.6" y2="254.19" stroke="#a4a4a4" stroke-width="0.45"/>
<line x1="139.8" y1="262.3" x2="186.6" y2="262.3" stroke="#cfcfcf" stroke-width="0.55"/>
<line x1="141.3" y1="261.9" x2="141.3" y2="262.9" stroke="#b0b0b0" stroke-width="0.4"/>
<line x1="152.62" y1="261.9" x2="152.62" y2="262.9" stroke="#b0b0b0" stroke-width="0.4"/>
<line x1="163.95" y1="261.9" x2="163.95" y2="262.9" stroke="#b0b0b0" stroke-width="0.4"/>
<line x1="175.28" y1="261.9" x2="175.28" y2="262.9" stroke="#b0b0b0" stroke-width="0.4"/>
<line x1="186.6" y1="261.9" x2="186.6" y2="262.9" stroke="#b0b0b0" stroke-width="0.4"/>
<circle cx="150" cy="262.3" r="0.9" fill="#111"/>
<rect x="271.1" y="196" width="49.5" height="65.5" fill="none" stroke="#9a9a9a" stroke-width="0.45"/>
<path d="M287.6,204 L287.6,203.96 L288.15,203.92 L288.7,203.84 L289.25,203.7 L289.8,203.47 L290.35,203.1 L290.9,202.54 L291.45,201.75 L292,200.73 L292.55,199.5 L293.1,198.19 L293.65,197.05 L294.2,196.6 L294.75,197.04 L295.3,197.75 L295.85,198.49 L296.4,199.15 L296.95,199.75 L297.5,200.47 L298.05,201.19 L298.6,201.83 L299.15,202.38 L299.7,202.82 L300.25,203.17 L300.8,203.43 L301.35,203.63 L301.9,203.76 L302.45,203.85 L303,203.91 L303.55,203.95 L303.55,204 Z" fill="#2a8fa8"/>
<path d="M279.9,211.19 L279.9,211.14 L280.45,211.11 L281,211.05 L281.55,210.97 L282.1,210.85 L282.65,210.68 L283.2,210.44 L283.75,210.12 L284.3,209.7 L284.85,209.18 L285.4,208.56 L285.95,207.87 L286.5,207.15 L287.05,206.48 L287.6,205.96 L288.15,205.82 L288.7,206.22 L289.25,206.83 L289.8,207.54 L290.35,208.25 L290.9,208.91 L291.45,209.48 L292,209.94 L292.55,210.31 L293.1,210.58 L293.65,210.78 L294.2,210.92 L294.75,211.02 L295.3,211.08 L295.85,211.13 L295.85,211.19 Z" fill="#ea7a7a"/>
<path d="M283.75,218.38 L283.75,218.3 L284.3,218.24 L284.85,218.15 L285.4,218.02 L285.95,217.81 L286.5,217.53 L287.05,217.14 L287.6,216.63 L288.15,216.02 L288.7,215.33 L289.25,214.61 L289.8,213.97 L290.35,213.54 L290.9,213.68 L291.45,214.19 L292,214.83 L292.55,215.44 L293.1,215.94 L293.65,216.25 L294.2,216.36 L294.75,216.27 L295.3,216.09 L295.85,215.95 L296.4,216.18 L296.95,216.64 L297.5,217.12 L298.05,217.54 L298.6,217.86 L299.15,218.08 L299.7,218.21 L300.25,218.29 L300.8,218.34 L300.8,218.38 Z" fill="#4e3a5e"/>
<path d="M282.65,225.56 L282.65,225.51 L283.2,225.45 L283.75,225.32 L284.3,225.09 L284.85,224.7 L285.4,224.07 L285.95,223.16 L286.5,221.98 L287.05,220.66 L287.6,219.5 L288.15,219.17 L288.7,220.09 L289.25,221.38 L289.8,222.65 L290.35,223.69 L290.9,224.44 L291.45,224.94 L292,225.23 L292.55,225.4 L293.1,225.49 L293.1,225.56 Z" fill="#7f90ac"/>
<path d="M282.1,232.75 L282.1,232.72 L282.65,232.65 L283.2,232.48 L283.75,232.14 L284.3,231.64 L284.85,231.17 L285.4,231.35 L285.95,231.87 L286.5,232.29 L287.05,232.52 L287.6,232.58 L288.15,232.53 L288.7,232.38 L289.25,232.13 L289.8,231.74 L290.35,231.18 L290.9,230.45 L291.45,229.58 L292,228.67 L292.55,227.89 L293.1,227.59 L293.65,228.14 L294.2,229 L294.75,229.91 L295.3,230.74 L295.85,231.4 L296.4,231.9 L296.95,232.23 L297.5,232.45 L298.05,232.59 L298.6,232.66 L299.15,232.71 L299.15,232.75 Z" fill="#5e1222"/>
<path d="M288.15,239.94 L288.15,239.89 L288.7,239.84 L289.25,239.75 L289.8,239.59 L290.35,239.34 L290.9,238.94 L291.45,238.38 L292,237.67 L292.55,236.86 L293.1,236.09 L293.65,235.63 L294.2,235.97 L294.75,236.71 L295.3,237.52 L295.85,238.26 L296.4,238.85 L296.95,239.27 L297.5,239.56 L298.05,239.73 L298.6,239.83 L299.15,239.88 L299.15,239.94 Z" fill="#c9502f"/>
<path d="M287.6,247.12 L287.6,247.08 L288.15,247.04 L288.7,246.96 L289.25,246.84 L289.8,246.65 L290.35,246.35 L290.9,245.94 L291.45,245.38 L292,244.68 L292.55,243.87 L293.1,243.04 L293.65,242.32 L294.2,242.03 L294.75,242.29 L295.3,242.7 L295.85,243.13 L296.4,243.61 L296.95,244.33 L297.5,245.11 L298.05,245.78 L298.6,246.3 L299.15,246.65 L299.7,246.87 L300.25,246.99 L300.8,247.06 L300.8,247.12 Z" fill="#f0c238"/>
<path d="M277.7,254.31 L277.7,254.27 L278.25,254.23 L278.8,254.14 L279.35,253.99 L279.9,253.75 L280.45,253.42 L281,253 L281.55,252.58 L282.1,252.3 L282.65,252.34 L283.2,252.4 L283.75,252.35 L284.3,252.11 L284.85,251.67 L285.4,251.04 L285.95,250.27 L286.5,249.44 L287.05,248.65 L287.6,248.04 L288.15,247.87 L288.7,248.35 L289.25,249.09 L289.8,249.94 L290.35,250.79 L290.9,251.58 L291.45,252.26 L292,252.82 L292.55,253.26 L293.1,253.59 L293.65,253.83 L294.2,254 L294.75,254.11 L295.3,254.19 L295.85,254.24 L295.85,254.31 Z" fill="#a6c29a"/>
<path d="M280.45,261.5 L280.45,261.46 L281,261.39 L281.55,261.25 L282.1,260.97 L282.65,260.45 L283.2,259.62 L283.75,258.47 L284.3,257.17 L284.85,256.19 L285.4,256.56 L285.95,257.76 L286.5,259.02 L287.05,260.04 L287.6,260.72 L288.15,261.12 L288.7,261.33 L289.25,261.43 L289.25,261.5 Z" fill="#d2d2d2"/>
<line x1="271.1" y1="204" x2="320.6" y2="204" stroke="#a4a4a4" stroke-width="0.45"/>
<line x1="271.1" y1="211.19" x2="320.6" y2="211.19" stroke="#a4a4a4" stroke-width="0.45"/>
<line x1="271.1" y1="218.38" x2="320.6" y2="218.38" stroke="#a4a4a4" stroke-width="0.45"/>
<line x1="271.1" y1="225.56" x2="320.6" y2="225.56" stroke="#a4a4a4" stroke-width="0.45"/>
<line x1="271.1" y1="232.75" x2="320.6" y2="232.75" stroke="#a4a4a4" stroke-width="0.45"/>
<line x1="271.1" y1="239.94" x2="320.6" y2="239.94" stroke="#a4a4a4" stroke-width="0.45"/>
<line x1="271.1" y1="247.12" x2="320.6" y2="247.12" stroke="#a4a4a4" stroke-width="0.45"/>
<line x1="271.1" y1="254.31" x2="320.6" y2="254.31" stroke="#a4a4a4" stroke-width="0.45"/>
<line x1="273.6" y1="262.4" x2="318.6" y2="262.4" stroke="#cfcfcf" stroke-width="0.55"/>
<line x1="275.1" y1="262" x2="275.1" y2="263" stroke="#b0b0b0" stroke-width="0.4"/>
<line x1="285.98" y1="262" x2="285.98" y2="263" stroke="#b0b0b0" stroke-width="0.4"/>
<line x1="296.85" y1="262" x2="296.85" y2="263" stroke="#b0b0b0" stroke-width="0.4"/>
<line x1="307.73" y1="262" x2="307.73" y2="263" stroke="#b0b0b0" stroke-width="0.4"/>
<line x1="318.6" y1="262" x2="318.6" y2="263" stroke="#b0b0b0" stroke-width="0.4"/>
<circle cx="283.7" cy="262.4" r="0.9" fill="#111"/>
<rect x="2.4" y="290.2" width="50.9" height="66.1" fill="none" stroke="#9a9a9a" stroke-width="0.45"/>
<path d="M14.84,298.4 L14.84,298.35 L15.41,298.29 L15.97,298.19 L16.54,298.01 L17.1,297.72 L17.67,297.25 L18.24,296.58 L18.8,295.65 L19.37,294.5 L19.93,293.21 L20.5,291.98 L21.06,291.21 L21.63,291.45 L22.19,292.01 L22.76,292.63 L23.33,293.27 L23.89,294.24 L24.46,295.35 L25.02,296.33 L25.59,297.09 L26.15,297.63 L26.72,297.97 L27.28,298.18 L27.85,298.29 L28.42,298.35 L28.42,298.4 Z" fill="#2a8fa8"/>
<path d="M12.01,305.64 L12.01,305.58 L12.58,305.52 L13.15,305.43 L13.71,305.26 L14.28,305 L14.84,304.6 L15.41,304.02 L15.97,303.24 L16.54,302.27 L17.1,301.17 L17.67,300.11 L18.24,299.31 L18.8,299.35 L19.37,300.17 L19.93,301.25 L20.5,302.33 L21.06,303.29 L21.63,304.06 L22.19,304.63 L22.76,305.02 L23.33,305.28 L23.89,305.44 L24.46,305.53 L25.02,305.58 L25.02,305.64 Z" fill="#ea7a7a"/>
<path d="M8.62,312.88 L8.62,312.84 L9.19,312.79 L9.75,312.71 L10.32,312.57 L10.88,312.33 L11.45,311.94 L12.01,311.36 L12.58,310.56 L13.15,309.54 L13.71,308.37 L14.28,307.24 L14.84,306.47 L15.41,306.74 L15.97,307.72 L16.54,308.89 L17.1,310.01 L17.67,310.94 L18.24,311.64 L18.8,312.13 L19.37,312.45 L19.93,312.64 L20.5,312.75 L21.06,312.81 L21.06,312.88 Z" fill="#4e3a5e"/>
<path d="M10.32,320.11 L10.32,320.05 L10.88,319.98 L11.45,319.83 L12.01,319.56 L12.58,319.07 L13.15,318.29 L13.71,317.17 L14.28,315.72 L14.84,314.14 L15.41,312.85 L15.97,312.82 L16.54,314.09 L17.1,315.67 L17.67,317.12 L18.24,318.26 L18.8,319.05 L19.37,319.54 L19.93,319.83 L20.5,319.98 L21.06,320.05 L21.06,320.11 Z" fill="#7f90ac"/>
<path d="M10.88,327.35 L10.88,327.31 L11.45,327.27 L12.01,327.19 L12.58,327.06 L13.15,326.84 L13.71,326.5 L14.28,325.99 L14.84,325.27 L15.41,324.34 L15.97,323.22 L16.54,322.02 L17.1,320.94 L17.67,320.33 L18.24,320.85 L18.8,321.89 L19.37,323.09 L19.93,324.22 L20.5,325.18 L21.06,325.92 L21.63,326.45 L22.19,326.81 L22.76,327.04 L23.33,327.18 L23.89,327.26 L24.46,327.3 L24.46,327.35 Z" fill="#5e1222"/>
<path d="M13.15,334.59 L13.15,334.52 L13.71,334.47 L14.28,334.4 L14.84,334.29 L15.41,334.13 L15.97,333.9 L16.54,333.58 L17.1,333.15 L17.67,332.61 L18.24,331.96 L18.8,331.21 L19.37,330.41 L19.93,329.65 L20.5,329.03 L21.06,328.76 L21.63,329.15 L22.19,329.81 L22.76,330.59 L23.33,331.38 L23.89,332.12 L24.46,332.75 L25.02,333.26 L25.59,333.66 L26.15,333.96 L26.72,334.17 L27.28,334.32 L27.85,334.42 L28.42,334.49 L28.98,334.53 L28.98,334.59 Z" fill="#c9502f"/>
<path d="M13.71,341.82 L13.71,341.77 L14.28,341.71 L14.84,341.6 L15.41,341.41 L15.97,341.11 L16.54,340.65 L17.1,339.99 L17.67,339.12 L18.24,338.1 L18.8,337.05 L19.37,336.22 L19.93,336.12 L20.5,336.88 L21.06,337.91 L21.63,338.95 L22.19,339.85 L22.76,340.54 L23.33,341.04 L23.89,341.37 L24.46,341.57 L25.02,341.69 L25.59,341.76 L25.59,341.82 Z" fill="#f0c238"/>
<path d="M9.19,349.06 L9.19,349 L9.75,348.93 L10.32,348.78 L10.88,348.49 L11.45,348.01 L12.01,347.24 L12.58,346.13 L13.15,344.74 L13.71,343.26 L14.28,342.11 L14.84,342.29 L15.41,343.56 L15.97,345.05 L16.54,346.39 L17.1,347.42 L17.67,348.13 L18.24,348.57 L18.8,348.82 L19.37,348.95 L19.93,349.01 L19.93,349.06 Z" fill="#a6c29a"/>
<path d="M11.45,356.3 L11.45,356.22 L12.01,356.12 L12.58,355.91 L13.15,355.53 L13.71,354.91 L14.28,353.99 L14.84,352.82 L15.41,351.63 L15.97,350.9 L16.54,351.53 L17.1,352.71 L17.67,353.89 L18.24,354.83 L18.8,355.49 L19.37,355.88 L19.93,356.1 L20.5,356.21 L21.06,356.26 L21.06,356.3 Z" fill="#d2d2d2"/>
<line x1="2.4" y1="298.4" x2="53.3" y2="298.4" stroke="#a4a4a4" stroke-width="0.45"/>
<line x1="2.4" y1="305.64" x2="53.3" y2="305.64" stroke="#a4a4a4" stroke-width="0.45"/>
<line x1="2.4" y1="312.88" x2="53.3" y2="312.88" stroke="#a4a4a4" stroke-width="0.45"/>
<line x1="2.4" y1="320.11" x2="53.3" y2="320.11" stroke="#a4a4a4" stroke-width="0.45"/>
<line x1="2.4" y1="327.35" x2="53.3" y2="327.35" stroke="#a4a4a4" stroke-width="0.45"/>
<line x1="2.4" y1="334.59" x2="53.3" y2="334.59" stroke="#a4a4a4" stroke-width="0.45"/>
<line x1="2.4" y1="341.82" x2="53.3" y2="341.82" stroke="#a4a4a4" stroke-width="0.45"/>
<line x1="2.4" y1="349.06" x2="53.3" y2="349.06" stroke="#a4a4a4" stroke-width="0.45"/>
<line x1="4.9" y1="357.2" x2="51.3" y2="357.2" stroke="#cfcfcf" stroke-width="0.55"/>
<line x1="6.4" y1="356.8" x2="6.4" y2="357.8" stroke="#b0b0b0" stroke-width="0.4"/>
<line x1="17.62" y1="356.8" x2="17.62" y2="357.8" stroke="#b0b0b0" stroke-width="0.4"/>
<line x1="28.85" y1="356.8" x2="28.85" y2="357.8" stroke="#b0b0b0" stroke-width="0.4"/>
<line x1="40.07" y1="356.8" x2="40.07" y2="357.8" stroke="#b0b0b0" stroke-width="0.4"/>
<line x1="51.3" y1="356.8" x2="51.3" y2="357.8" stroke="#b0b0b0" stroke-width="0.4"/>
<circle cx="13.7" cy="357.2" r="0.9" fill="#111"/>
<rect x="137.4" y="290.6" width="51" height="65.7" fill="none" stroke="#9a9a9a" stroke-width="0.45"/>
<path d="M156.1,298.4 L156.1,298.33 L156.67,298.24 L157.23,298.03 L157.8,297.64 L158.37,296.95 L158.93,295.86 L159.5,294.33 L160.07,292.53 L160.63,290.92 L161.2,290.6 L161.77,292.01 L162.33,293.82 L162.9,295.45 L163.47,296.68 L164.03,297.48 L164.6,297.94 L165.17,298.19 L165.73,298.31 L166.3,298.36 L166.3,298.4 Z" fill="#2a8fa8"/>
<path d="M149.87,305.64 L149.87,305.56 L150.43,305.5 L151,305.38 L151.57,305.2 L152.13,304.91 L152.7,304.48 L153.27,303.89 L153.83,303.14 L154.4,302.25 L154.97,301.33 L155.53,300.56 L156.1,300.26 L156.67,300.8 L157.23,301.65 L157.8,302.58 L158.37,303.42 L158.93,304.12 L159.5,304.65 L160.07,305.03 L160.63,305.27 L161.2,305.43 L161.77,305.53 L162.33,305.58 L162.33,305.64 Z" fill="#ea7a7a"/>
<path d="M149.87,312.88 L149.87,312.83 L150.43,312.78 L151,312.7 L151.57,312.54 L152.13,312.29 L152.7,311.9 L153.27,311.34 L153.83,310.58 L154.4,309.66 L154.97,308.68 L155.53,307.83 L156.1,307.5 L156.67,308.1 L157.23,309.02 L157.8,310 L158.37,310.87 L158.93,311.56 L159.5,312.06 L160.07,312.4 L160.63,312.61 L161.2,312.73 L161.77,312.8 L161.77,312.88 Z" fill="#4e3a5e"/>
<path d="M148.17,320.11 L148.17,320.06 L148.73,320.02 L149.3,319.94 L149.87,319.81 L150.43,319.62 L151,319.32 L151.57,318.9 L152.13,318.33 L152.7,317.61 L153.27,316.78 L153.83,315.91 L154.4,315.15 L154.97,314.72 L155.53,315.07 L156.1,315.81 L156.67,316.68 L157.23,317.52 L157.8,318.25 L158.37,318.84 L158.93,319.28 L159.5,319.59 L160.07,319.79 L160.63,319.93 L161.2,320.01 L161.77,320.06 L161.77,320.11 Z" fill="#7f90ac"/>
<path d="M151.57,327.35 L151.57,327.31 L152.13,327.26 L152.7,327.13 L153.27,326.89 L153.83,326.44 L154.4,325.7 L154.97,324.59 L155.53,323.16 L156.1,321.64 L156.67,320.59 L157.23,321.03 L157.8,322.07 L158.37,323.15 L158.93,324.06 L159.5,324.92 L160.07,325.63 L160.63,326.18 L161.2,326.58 L161.77,326.86 L162.33,327.05 L162.9,327.18 L163.47,327.25 L164.03,327.3 L164.03,327.35 Z" fill="#5e1222"/>
<path d="M149.3,334.59 L149.3,334.53 L149.87,334.49 L150.43,334.44 L151,334.36 L151.57,334.25 L152.13,334.11 L152.7,333.94 L153.27,333.75 L153.83,333.56 L154.4,333.39 L154.97,333.29 L155.53,333.37 L156.1,333.53 L156.67,333.73 L157.23,333.92 L157.8,334.1 L158.37,334.24 L158.93,334.35 L159.5,334.43 L160.07,334.49 L160.63,334.53 L161.2,334.55 L161.77,334.57 L162.33,334.57 L162.9,334.57 L163.47,334.56 L164.03,334.52 L164.6,334.44 L165.17,334.28 L165.73,334.05 L166.3,333.75 L166.87,333.53 L167.43,333.63 L168,333.91 L168.57,334.18 L169.13,334.38 L169.7,334.49 L170.27,334.55 L170.27,334.59 Z" fill="#c9502f"/>
<path d="M151,341.82 L151,341.75 L151.57,341.71 L152.13,341.65 L152.7,341.56 L153.27,341.45 L153.83,341.29 L154.4,341.09 L154.97,340.84 L155.53,340.54 L156.1,340.19 L156.67,339.82 L157.23,339.44 L157.8,339.11 L158.37,338.86 L158.93,338.84 L159.5,339.06 L160.07,339.38 L160.63,339.75 L161.2,340.13 L161.77,340.48 L162.33,340.79 L162.9,341.05 L163.47,341.26 L164.03,341.42 L164.6,341.54 L165.17,341.64 L165.73,341.7 L166.3,341.74 L166.87,341.77 L166.87,341.82 Z" fill="#f0c238"/>
<path d="M146.47,349.06 L146.47,349 L147.03,348.96 L147.6,348.88 L148.17,348.75 L148.73,348.55 L149.3,348.26 L149.87,347.86 L150.43,347.34 L151,346.72 L151.57,346.03 L152.13,345.36 L152.7,344.86 L153.27,344.84 L153.83,345.32 L154.4,345.98 L154.97,346.68 L155.53,347.31 L156.1,347.84 L156.67,348.24 L157.23,348.53 L157.8,348.71 L158.37,348.8 L158.93,348.78 L159.5,348.64 L160.07,348.37 L160.63,348.07 L161.2,348.02 L161.77,348.3 L162.33,348.62 L162.9,348.84 L163.47,348.97 L164.03,349.03 L164.03,349.06 Z" fill="#a6c29a"/>
<path d="M147.6,356.3 L147.6,356.25 L148.17,356.16 L148.73,355.98 L149.3,355.61 L149.87,354.96 L150.43,353.96 L151,352.68 L151.57,351.42 L152.13,350.98 L152.7,351.97 L153.27,353.31 L153.83,354.48 L154.4,355.31 L154.97,355.81 L155.53,356.08 L156.1,356.21 L156.67,356.27 L156.67,356.3 Z" fill="#d2d2d2"/>
<line x1="137.4" y1="298.4" x2="188.4" y2="298.4" stroke="#a4a4a4" stroke-width="0.45"/>
<line x1="137.4" y1="305.64" x2="188.4" y2="305.64" stroke="#a4a4a4" stroke-width="0.45"/>
<line x1="137.4" y1="312.88" x2="188.4" y2="312.88" stroke="#a4a4a4" stroke-width="0.45"/>
<line x1="137.4" y1="320.11" x2="188.4" y2="320.11" stroke="#a4a4a4" stroke-width="0.45"/>
<line x1="137.4" y1="327.35" x2="188.4" y2="327.35" stroke="#a4a4a4" stroke-width="0.45"/>
<line x1="137.4" y1="334.59" x2="188.4" y2="334.59" stroke="#a4a4a4" stroke-width="0.45"/>
<line x1="137.4" y1="341.82" x2="188.4" y2="341.82" stroke="#a4a4a4" stroke-width="0.45"/>
<line x1="137.4" y1="349.06" x2="188.4" y2="349.06" stroke="#a4a4a4" stroke-width="0.45"/>
<line x1="139.9" y1="357.2" x2="186.4" y2="357.2" stroke="#cfcfcf" stroke-width="0.55"/>
<line x1="141.4" y1="356.8" x2="141.4" y2="357.8" stroke="#b0b0b0" stroke-width="0.4"/>
<line x1="152.65" y1="356.8" x2="152.65" y2="357.8" stroke="#b0b0b0" stroke-width="0.4"/>
<line x1="163.9" y1="356.8" x2="163.9" y2="357.8" stroke="#b0b0b0" stroke-width="0.4"/>
<line x1="175.15" y1="356.8" x2="175.15" y2="357.8" stroke="#b0b0b0" stroke-width="0.4"/>
<line x1="186.4" y1="356.8" x2="186.4" y2="357.8" stroke="#b0b0b0" stroke-width="0.4"/>
<circle cx="149.5" cy="357.2" r="0.9" fill="#111"/>
<path d="M16.8,22.5 L17,19 Q18.2,17.6 19.5,19 L19.7,22.5 Z" fill="#cfc8cc"/>
<path d="M22.6,22.5 L22.8,19 Q24,17.6 25.3,19 L25.5,22.5 Z" fill="#cfc8cc"/>
<path d="M15,25.5 Q15,21.6 18.5,21.4 L25,21.4 Q28.6,21.6 28.6,25.5 L28.6,41.2 Q28.6,43.8 26,43.8 L17.6,43.8 Q15,43.8 15,41.2 Z" fill="#9a1a22"/>
<path d="M15,25.5 Q15,21.6 18.5,21.4 L25,21.4 Q28.6,21.6 28.6,25.5 L28.6,27 L15,27 Z" fill="#7c1119" opacity="0.7"/>
<rect x="16.2" y="29.2" width="10.8" height="10.6" fill="#f4eeee"/>
<rect x="18.3" y="30.8" width="6.6" height="0.7" fill="#b8a0a0"/>
<rect x="17.8" y="32.3" width="7.6" height="2.8" fill="#b06068"/>
<rect x="18.3" y="36.2" width="6.6" height="0.6" fill="#c8b8b8"/>
<line x1="38.7" y1="32" x2="48.7" y2="32" stroke="#111" stroke-width="0.85"/>
<path d="M51.7,32 L47.3,29.5 L48.3,32 L47.3,34.5 Z" fill="#111"/>
<path d="M61,25.5 L62.5,22 L85,21.2 L87.2,24.5 L87.2,42.2 L61.5,43.6 Z" fill="#e2e4e9"/>
<path d="M61,25.5 L62.5,22 L85,21.2 L87.2,24.5 L84,26 Z" fill="#eff0f3"/>
<path d="M61,25.5 L74,26 L74,43.4 L61.5,43.6 Z" fill="#d3d7df"/>
<line x1="62.3" y1="26.5" x2="62.3" y2="43" stroke="#bcc1cb" stroke-width="0.5"/>
<line x1="64.3" y1="26.5" x2="64.3" y2="43" stroke="#bcc1cb" stroke-width="0.5"/>
<line x1="66.3" y1="26.5" x2="66.3" y2="43" stroke="#bcc1cb" stroke-width="0.5"/>
<line x1="68.3" y1="26.5" x2="68.3" y2="43" stroke="#bcc1cb" stroke-width="0.5"/>
<line x1="70.3" y1="26.5" x2="70.3" y2="43" stroke="#bcc1cb" stroke-width="0.5"/>
<line x1="72.3" y1="26.5" x2="72.3" y2="43" stroke="#bcc1cb" stroke-width="0.5"/>
<path d="M83.6,26 L87.2,24.5 L87.2,42.2 L83.6,43 Z" fill="#c9ccd4"/>
<rect x="74.8" y="30.6" width="6" height="3.2" fill="#8e98a8"/>
<rect x="75.2" y="34.8" width="5.2" height="5.5" fill="#e8eaee" stroke="#cdd0d8" stroke-width="0.3"/>
<text x="73.4" y="16.1" font-size="4.1" text-anchor="middle" fill="#333" stroke="#2a2a2a" stroke-width="0.16">FACS</text>
<line x1="97.7" y1="32" x2="107" y2="32" stroke="#111" stroke-width="0.85"/>
<path d="M110,32 L105.6,29.5 L106.6,32 L105.6,34.5 Z" fill="#111"/>
<text x="21.6" y="65.3" font-size="4.1" text-anchor="middle" fill="#333" stroke="#2a2a2a" stroke-width="0.16">Database</text>
<line x1="38.5" y1="63.7" x2="48.7" y2="63.7" stroke="#111" stroke-width="0.85"/>
<path d="M51.7,63.7 L47.3,61.2 L48.3,63.7 L47.3,66.2 Z" fill="#111"/>
<path d="M66.5,58.5 C68.5,61.5 70.5,63 73,62 C76,60.5 78,58.5 81,58.8 C84,59.2 86.5,60.5 88.5,62" fill="none" stroke="#cbe6ee" stroke-width="1.5" stroke-linecap="round"/>
<path d="M66.5,58.5 C68.5,61.5 70.5,63 73,62 C76,60.5 78,58.5 81,58.8 C84,59.2 86.5,60.5 88.5,62" fill="none" stroke="#9cc2ce" stroke-width="0.5" stroke-dasharray="0.4,0.9" transform="translate(0.3,-0.4)"/>
<path d="M61.5,66.5 C62.5,69 64,70.8 66.5,70.3 C70,69.5 72.5,66.2 75.5,66.2 C78.5,66.3 80.5,68.2 82.5,69.6" fill="none" stroke="#cbe6ee" stroke-width="1.5" stroke-linecap="round"/>
<path d="M61.5,66.5 C62.5,69 64,70.8 66.5,70.3 C70,69.5 72.5,66.2 75.5,66.2 C78.5,66.3 80.5,68.2 82.5,69.6" fill="none" stroke="#9cc2ce" stroke-width="0.5" stroke-dasharray="0.4,0.9" transform="translate(0.3,-0.4)"/>
<text x="75.6" y="79.3" font-size="4.1" text-anchor="middle" fill="#333" stroke="#2a2a2a" stroke-width="0.16">RNA Sequencing</text>
<line x1="97.6" y1="61.5" x2="107" y2="61.5" stroke="#111" stroke-width="0.85"/>
<path d="M110,61.5 L105.6,59 L106.6,61.5 L105.6,64 Z" fill="#111"/>
<line x1="138.5" y1="22.2" x2="138.6" y2="26.6" stroke="#6a5090" stroke-width="0.45"/>
<path d="M138.6,26.6 L137.87,25.22 L139.27,25.18 Z" fill="#222"/>
<line x1="137.2" y1="34" x2="134.3" y2="38.3" stroke="#6a5090" stroke-width="0.45"/>
<path d="M134.3,38.3 L134.5,36.75 L135.66,37.53 Z" fill="#222"/>
<line x1="140" y1="34" x2="143.5" y2="43.3" stroke="#6a5090" stroke-width="0.45"/>
<path d="M143.5,43.3 L142.35,42.24 L143.66,41.74 Z" fill="#222"/>
<line x1="131.8" y1="43" x2="130.3" y2="48" stroke="#6a5090" stroke-width="0.45"/>
<path d="M130.3,48 L130.03,46.46 L131.37,46.86 Z" fill="#222"/>
<line x1="134" y1="43" x2="137" y2="59" stroke="#6a5090" stroke-width="0.45"/>
<path d="M137,59 L136.05,57.75 L137.43,57.49 Z" fill="#222"/>
<line x1="143.5" y1="50.5" x2="140.5" y2="59" stroke="#6a5090" stroke-width="0.45"/>
<path d="M140.5,59 L140.31,57.45 L141.63,57.91 Z" fill="#222"/>
<line x1="145.5" y1="50.5" x2="147.5" y2="58.5" stroke="#6a5090" stroke-width="0.45"/>
<path d="M147.5,58.5 L146.48,57.31 L147.84,56.97 Z" fill="#222"/>
<line x1="129" y1="56.8" x2="127.2" y2="61.5" stroke="#6a5090" stroke-width="0.45"/>
<path d="M127.2,61.5 L127.05,59.94 L128.35,60.44 Z" fill="#222"/>
<circle cx="138.5" cy="18.5" r="3.5" fill="#d83248"/><circle cx="138.5" cy="18.7" r="2" fill="#5a2a58"/>
<circle cx="138.6" cy="30.2" r="3.7" fill="#7c58cc"/><circle cx="138.4" cy="30.5" r="1.8" fill="#6844b4"/>
<ellipse cx="133.2" cy="40.4" rx="3.6" ry="2.6" fill="#5c5cd0"/>
<circle cx="144.3" cy="46.9" r="3.7" fill="#c4b0bc"/><circle cx="144.4" cy="47.1" r="2.3" fill="#5e3474"/>
<circle cx="129.6" cy="52.6" r="4" fill="#c8d8b0"/><circle cx="130.3" cy="52.5" r="3" fill="#8a4ab8"/><circle cx="130.8" cy="52.3" r="1.5" fill="#b07ad8"/>
<circle cx="137.4" cy="64" r="4.4" fill="#a0cc70"/><circle cx="138.4" cy="64" r="3" fill="#2e2e4e"/><circle cx="138.7" cy="63.8" r="1.4" fill="#4a3a8a"/>
<circle cx="148.6" cy="63.2" r="4.6" fill="#52267e"/><circle cx="148.6" cy="63.3" r="2.8" fill="#7a3aa8"/>
<text x="143.3" y="19.6" font-size="3.6" text-anchor="start" fill="#333" stroke="#2a2a2a" stroke-width="0.16">HSC</text>
<text x="143.3" y="31.9" font-size="3.6" text-anchor="start" fill="#333" stroke="#2a2a2a" stroke-width="0.16">MPP</text>
<text x="129" y="41.8" font-size="3.6" text-anchor="end" fill="#333" stroke="#2a2a2a" stroke-width="0.16">LMPP</text>
<text x="147.3" y="45.2" font-size="3.6" text-anchor="start" fill="#333" stroke="#2a2a2a" stroke-width="0.16">CMP</text>
<text x="124" y="53.6" font-size="3.6" text-anchor="end" fill="#333" stroke="#2a2a2a" stroke-width="0.16">MLP</text>
<text x="120" y="72" font-size="3.6" text-anchor="middle" fill="#333" stroke="#2a2a2a" stroke-width="0.16">B/NK</text>
<text x="136.5" y="72" font-size="3.6" text-anchor="middle" fill="#333" stroke="#2a2a2a" stroke-width="0.16">GMP</text>
<text x="151" y="72" font-size="3.6" text-anchor="middle" fill="#333" stroke="#2a2a2a" stroke-width="0.16">MEP</text>
<defs>
<linearGradient id="gm" x1="0" x2="1" y1="0" y2="0"><stop offset="0" stop-color="#8cc653"/><stop offset="0.1" stop-color="#98cc70"/><stop offset="0.17" stop-color="#c8dcd8"/><stop offset="0.25" stop-color="#d6e4f0"/><stop offset="0.7" stop-color="#dae6f2"/><stop offset="0.86" stop-color="#e8f0f8"/><stop offset="1" stop-color="#ffffff"/></linearGradient>
<linearGradient id="gs" x1="0" x2="1" y1="0" y2="0"><stop offset="0" stop-color="#ee7478"/><stop offset="0.12" stop-color="#f0959a"/><stop offset="0.3" stop-color="#ecc6cc"/><stop offset="0.42" stop-color="#dfe5ee"/><stop offset="0.7" stop-color="#dae6f2"/><stop offset="0.86" stop-color="#e8f0f8"/><stop offset="1" stop-color="#ffffff"/></linearGradient>
<linearGradient id="gd" x1="0" x2="1" y1="0" y2="0"><stop offset="0" stop-color="#f6f8fb"/><stop offset="0.2" stop-color="#e8eff6"/><stop offset="0.45" stop-color="#e4ecf4"/><stop offset="0.6" stop-color="#f2c8ca"/><stop offset="0.85" stop-color="#f0a2a4"/><stop offset="1" stop-color="#e87a7c"/></linearGradient>
<linearGradient id="cb" x1="0" x2="0" y1="0" y2="1"><stop offset="0" stop-color="#82309e"/><stop offset="0.25" stop-color="#9e4692"/><stop offset="0.5" stop-color="#c6607c"/><stop offset="0.72" stop-color="#e6763e"/><stop offset="0.86" stop-color="#f28a30"/><stop offset="0.93" stop-color="#f59638"/><stop offset="0.96" stop-color="#f8cfa6"/><stop offset="1" stop-color="#fde6cf"/></linearGradient>
</defs>
<rect x="161.6" y="34.2" width="79" height="9.8" fill="url(#gm)"/>
<rect x="161.6" y="43.9" width="79" height="9.3" fill="url(#gs)"/>
<rect x="161.6" y="53.1" width="80.2" height="9.4" fill="url(#gd)"/>
<text x="162" y="40.8" font-size="6.1" fill="#1e1e2a">Metabolism</text>
<text x="162" y="51.4" font-size="6.2" fill="#2a1414">Self-renew</text>
<text x="240.4" y="60.7" font-size="6.1" text-anchor="end" fill="#1e1e2a">Differentiation</text>
<g shape-rendering="crispEdges">
<rect x="300.9" y="279" width="8.22" height="7.42" fill="#f28a2e"/>
<rect x="308.42" y="279" width="8.22" height="7.42" fill="#fbc38f"/>
<rect x="315.94" y="279" width="8.22" height="7.42" fill="#f8b581"/>
<rect x="323.46" y="279" width="8.22" height="7.42" fill="#fcd8ba"/>
<rect x="330.98" y="279" width="8.22" height="7.42" fill="#fac396"/>
<rect x="338.5" y="279" width="8.22" height="7.42" fill="#faca9d"/>
<rect x="346.02" y="279" width="8.22" height="7.42" fill="#f9b883"/>
<rect x="353.54" y="279" width="8.22" height="7.42" fill="#fcdabd"/>
<rect x="300.9" y="285.72" width="8.22" height="7.42" fill="#f28a2e"/>
<rect x="308.42" y="285.72" width="8.22" height="7.42" fill="#fbca9d"/>
<rect x="315.94" y="285.72" width="8.22" height="7.42" fill="#fbca9d"/>
<rect x="323.46" y="285.72" width="8.22" height="7.42" fill="#fcd8ba"/>
<rect x="330.98" y="285.72" width="8.22" height="7.42" fill="#fac696"/>
<rect x="338.5" y="285.72" width="8.22" height="7.42" fill="#fac79b"/>
<rect x="346.02" y="285.72" width="8.22" height="7.42" fill="#f8b278"/>
<rect x="353.54" y="285.72" width="8.22" height="7.42" fill="#fcdcc1"/>
<rect x="300.9" y="292.44" width="8.22" height="7.42" fill="#f28a2e"/>
<rect x="308.42" y="292.44" width="8.22" height="7.42" fill="#fbcea4"/>
<rect x="315.94" y="292.44" width="8.22" height="7.42" fill="#fac596"/>
<rect x="323.46" y="292.44" width="8.22" height="7.42" fill="#fcdcbd"/>
<rect x="330.98" y="292.44" width="8.22" height="7.42" fill="#fac393"/>
<rect x="338.5" y="292.44" width="8.22" height="7.42" fill="#fbca9d"/>
<rect x="346.02" y="292.44" width="8.22" height="7.42" fill="#f8b27c"/>
<rect x="353.54" y="292.44" width="8.22" height="7.42" fill="#fcdec1"/>
<rect x="300.9" y="299.16" width="8.22" height="7.42" fill="#f28a2e"/>
<rect x="308.42" y="299.16" width="8.22" height="7.42" fill="#fcd8b6"/>
<rect x="315.94" y="299.16" width="8.22" height="7.42" fill="#fcd5b3"/>
<rect x="323.46" y="299.16" width="8.22" height="7.42" fill="#fde5cc"/>
<rect x="330.98" y="299.16" width="8.22" height="7.42" fill="#fbd1ac"/>
<rect x="338.5" y="299.16" width="8.22" height="7.42" fill="#fcd1ac"/>
<rect x="346.02" y="299.16" width="8.22" height="7.42" fill="#fbca9d"/>
<rect x="353.54" y="299.16" width="8.22" height="7.42" fill="#fddfc8"/>
<rect x="300.9" y="305.88" width="8.22" height="7.42" fill="#f28a2e"/>
<rect x="308.42" y="305.88" width="8.22" height="7.42" fill="#fcd5b3"/>
<rect x="315.94" y="305.88" width="8.22" height="7.42" fill="#fcd8b6"/>
<rect x="323.46" y="305.88" width="8.22" height="7.42" fill="#fde6d0"/>
<rect x="330.98" y="305.88" width="8.22" height="7.42" fill="#fbcaa1"/>
<rect x="338.5" y="305.88" width="8.22" height="7.42" fill="#fbcea4"/>
<rect x="346.02" y="305.88" width="8.22" height="7.42" fill="#fac596"/>
<rect x="353.54" y="305.88" width="8.22" height="7.42" fill="#fde1c9"/>
<rect x="300.9" y="312.6" width="8.22" height="7.42" fill="#f28a2e"/>
<rect x="308.42" y="312.6" width="8.22" height="7.42" fill="#fac69a"/>
<rect x="315.94" y="312.6" width="8.22" height="7.42" fill="#facea8"/>
<rect x="323.46" y="312.6" width="8.22" height="7.42" fill="#fcd8ba"/>
<rect x="330.98" y="312.6" width="8.22" height="7.42" fill="#faca9d"/>
<rect x="338.5" y="312.6" width="8.22" height="7.42" fill="#f9c091"/>
<rect x="346.02" y="312.6" width="8.22" height="7.42" fill="#f8b883"/>
<rect x="353.54" y="312.6" width="8.22" height="7.42" fill="#fcd8ba"/>
<rect x="300.9" y="319.32" width="8.22" height="7.42" fill="#8e40ae"/>
<rect x="308.42" y="319.32" width="8.22" height="7.42" fill="#c86870"/>
<rect x="315.94" y="319.32" width="8.22" height="7.42" fill="#f5912f"/>
<rect x="323.46" y="319.32" width="8.22" height="7.42" fill="#f5912f"/>
<rect x="330.98" y="319.32" width="8.22" height="7.42" fill="#c05878"/>
<rect x="338.5" y="319.32" width="8.22" height="7.42" fill="#c66070"/>
<rect x="346.02" y="319.32" width="8.22" height="7.42" fill="#f5912f"/>
<rect x="353.54" y="319.32" width="8.22" height="7.42" fill="#f5912f"/>
<rect x="300.9" y="326.04" width="8.22" height="7.42" fill="#f5912f"/>
<rect x="308.42" y="326.04" width="8.22" height="7.42" fill="#f7a050"/>
<rect x="315.94" y="326.04" width="8.22" height="7.42" fill="#f5912f"/>
<rect x="323.46" y="326.04" width="8.22" height="7.42" fill="#f5912f"/>
<rect x="330.98" y="326.04" width="8.22" height="7.42" fill="#f5912f"/>
<rect x="338.5" y="326.04" width="8.22" height="7.42" fill="#f5912f"/>
<rect x="346.02" y="326.04" width="8.22" height="7.42" fill="#f5912f"/>
<rect x="353.54" y="326.04" width="8.22" height="7.42" fill="#f5912f"/>
<rect x="300.9" y="332.76" width="8.22" height="7.42" fill="#f5912f"/>
<rect x="308.42" y="332.76" width="8.22" height="7.42" fill="#f8a860"/>
<rect x="315.94" y="332.76" width="8.22" height="7.42" fill="#f69a40"/>
<rect x="323.46" y="332.76" width="8.22" height="7.42" fill="#f5912f"/>
<rect x="330.98" y="332.76" width="8.22" height="7.42" fill="#f5912f"/>
<rect x="338.5" y="332.76" width="8.22" height="7.42" fill="#f5912f"/>
<rect x="346.02" y="332.76" width="8.22" height="7.42" fill="#f5912f"/>
<rect x="353.54" y="332.76" width="8.22" height="7.42" fill="#f5912f"/>
</g>
<rect x="300.9" y="279" width="60.16" height="60.48" fill="none" stroke="#8a7466" stroke-width="0.45"/>
<text x="297.3" y="284.56" font-size="4.6" text-anchor="end" fill="#1e1e1e" stroke="#2a2a2a" stroke-width="0.16">ACACA</text>
<line x1="298.7" y1="282.36" x2="300.9" y2="282.36" stroke="#333" stroke-width="0.4"/>
<text x="297.3" y="291.28" font-size="4.6" text-anchor="end" fill="#1e1e1e" stroke="#2a2a2a" stroke-width="0.16">ASS1</text>
<line x1="298.7" y1="289.08" x2="300.9" y2="289.08" stroke="#333" stroke-width="0.4"/>
<text x="297.3" y="298" font-size="4.6" text-anchor="end" fill="#1e1e1e" stroke="#2a2a2a" stroke-width="0.16">ATP5A</text>
<line x1="298.7" y1="295.8" x2="300.9" y2="295.8" stroke="#333" stroke-width="0.4"/>
<text x="297.3" y="304.72" font-size="4.6" text-anchor="end" fill="#1e1e1e" stroke="#2a2a2a" stroke-width="0.16">PRDX2</text>
<line x1="298.7" y1="302.52" x2="300.9" y2="302.52" stroke="#333" stroke-width="0.4"/>
<text x="297.3" y="311.44" font-size="4.6" text-anchor="end" fill="#1e1e1e" stroke="#2a2a2a" stroke-width="0.16">CPT1A</text>
<line x1="298.7" y1="309.24" x2="300.9" y2="309.24" stroke="#333" stroke-width="0.4"/>
<text x="297.3" y="318.16" font-size="4.6" text-anchor="end" fill="#1e1e1e" stroke="#2a2a2a" stroke-width="0.16">G6PD</text>
<line x1="298.7" y1="315.96" x2="300.9" y2="315.96" stroke="#333" stroke-width="0.4"/>
<text x="297.3" y="324.88" font-size="4.6" text-anchor="end" fill="#1e1e1e" stroke="#2a2a2a" stroke-width="0.16">GLUT1</text>
<line x1="298.7" y1="322.68" x2="300.9" y2="322.68" stroke="#333" stroke-width="0.4"/>
<text x="297.3" y="331.6" font-size="4.6" text-anchor="end" fill="#1e1e1e" stroke="#2a2a2a" stroke-width="0.16">IDH2</text>
<line x1="298.7" y1="329.4" x2="300.9" y2="329.4" stroke="#333" stroke-width="0.4"/>
<text x="297.3" y="338.32" font-size="4.6" text-anchor="end" fill="#1e1e1e" stroke="#2a2a2a" stroke-width="0.16">HKI</text>
<line x1="298.7" y1="336.12" x2="300.9" y2="336.12" stroke="#333" stroke-width="0.4"/>
<rect x="300.9" y="339.68" width="7.58" height="1.8" fill="#2a8cb2"/>
<text transform="translate(304.46,345.58) rotate(-45)" font-size="4.3" text-anchor="end" fill="#1e1e1e" stroke="#2a2a2a" stroke-width="0.16">HSC</text>
<rect x="308.42" y="339.68" width="7.58" height="1.8" fill="#ee7b7b"/>
<text transform="translate(311.98,345.58) rotate(-45)" font-size="4.3" text-anchor="end" fill="#1e1e1e" stroke="#2a2a2a" stroke-width="0.16">MPP</text>
<rect x="315.94" y="339.68" width="7.58" height="1.8" fill="#694a78"/>
<text transform="translate(319.5,345.58) rotate(-45)" font-size="4.3" text-anchor="end" fill="#1e1e1e" stroke="#2a2a2a" stroke-width="0.16">CMP</text>
<rect x="323.46" y="339.68" width="7.58" height="1.8" fill="#7f9bc6"/>
<text transform="translate(327.02,345.58) rotate(-45)" font-size="4.3" text-anchor="end" fill="#1e1e1e" stroke="#2a2a2a" stroke-width="0.16">MEP</text>
<rect x="330.98" y="339.68" width="7.58" height="1.8" fill="#6d1a2a"/>
<text transform="translate(334.54,345.58) rotate(-45)" font-size="4.3" text-anchor="end" fill="#1e1e1e" stroke="#2a2a2a" stroke-width="0.16">LMPP</text>
<rect x="338.5" y="339.68" width="7.58" height="1.8" fill="#de563c"/>
<text transform="translate(342.06,345.58) rotate(-45)" font-size="4.3" text-anchor="end" fill="#1e1e1e" stroke="#2a2a2a" stroke-width="0.16">MLP</text>
<rect x="346.02" y="339.68" width="7.58" height="1.8" fill="#f4c534"/>
<text transform="translate(349.58,345.58) rotate(-45)" font-size="4.3" text-anchor="end" fill="#1e1e1e" stroke="#2a2a2a" stroke-width="0.16">B/NK</text>
<rect x="353.54" y="339.68" width="7.58" height="1.8" fill="#9fc48e"/>
<text transform="translate(357.1,345.58) rotate(-45)" font-size="4.3" text-anchor="end" fill="#1e1e1e" stroke="#2a2a2a" stroke-width="0.16">GMP</text>
<rect x="369.3" y="279.3" width="7.6" height="60.6" fill="url(#cb)"/>
<text x="379.7" y="297.6" font-size="4.5" fill="#1e1e1e" stroke="#2a2a2a" stroke-width="0.16">10000</text>
<text x="379.7" y="339.6" font-size="4.5" fill="#1e1e1e" stroke="#2a2a2a" stroke-width="0.16">500</text>
</svg>
</body></html>
